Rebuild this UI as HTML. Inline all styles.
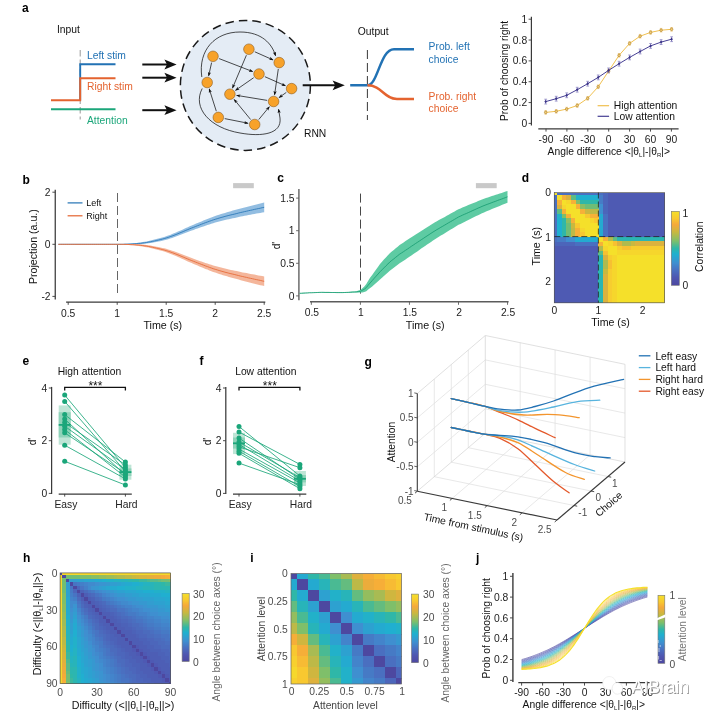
<!DOCTYPE html>
<html><head><meta charset="utf-8"><title>figure</title>
<style>html,body{margin:0;padding:0;background:#fff;}svg{display:block}text{font-family:"Liberation Sans",sans-serif;}</style></head>
<body><svg width="712" height="715" viewBox="0 0 712 715">
<defs><marker id="ah" viewBox="0 0 10 10" refX="8" refY="5" markerWidth="4.6" markerHeight="4.6" orient="auto" markerUnits="userSpaceOnUse"><path d="M0 1.5L10 5L0 8.5L2.5 5z" fill="#111"/></marker></defs>
<rect width="712" height="715" fill="#fff"/>
<g style="will-change:transform">
<text x="22" y="12.2" font-size="12" text-anchor="start" fill="#000" font-weight="bold">a</text>
<text x="57" y="33" font-size="10.3" text-anchor="start" fill="#111">Input</text>
<line x1="80.2" y1="50" x2="80.2" y2="119.5" stroke="#999" stroke-width="1" stroke-dasharray="6.5 3"/>
<path d="M80.2 100.5V64.2H115.5" stroke="#2272b4" stroke-width="1.9" fill="none"/>
<path d="M51 100.2H80.2V78.3H115.5" stroke="#e4632f" stroke-width="1.9" fill="none"/>
<path d="M51 109.3H115.5" stroke="#1ba67a" stroke-width="1.9" fill="none"/>
<text x="87" y="59.2" font-size="10.3" text-anchor="start" fill="#2272b4">Left stim</text>
<text x="87" y="89.6" font-size="10.3" text-anchor="start" fill="#e4632f">Right stim</text>
<text x="87" y="124" font-size="10.3" text-anchor="start" fill="#1ba67a">Attention</text>
<line x1="142.3" y1="64.5" x2="168.6" y2="64.5" stroke="#111" stroke-width="2.0"/>
<path d="M176.6 64.5L164.4 59.6L167.0 64.5L164.4 69.4z" fill="#111"/>
<line x1="142.3" y1="77.7" x2="168.6" y2="77.7" stroke="#111" stroke-width="2.0"/>
<path d="M176.6 77.7L164.4 72.8L167.0 77.7L164.4 82.60000000000001z" fill="#111"/>
<line x1="142.3" y1="110.2" x2="168.6" y2="110.2" stroke="#111" stroke-width="2.0"/>
<path d="M176.6 110.2L164.4 105.3L167.0 110.2L164.4 115.10000000000001z" fill="#111"/>
<circle cx="245.4" cy="85.4" r="65" fill="#e4ecf5" stroke="#1a1a1a" stroke-width="1.5" stroke-dasharray="8.6 5"/>
<line x1="211.6" y1="62.6" x2="208.7" y2="75.7" stroke="#111" stroke-width="0.75" marker-end="url(#ah)"/>
<line x1="219.1" y1="58.6" x2="252.5" y2="71.5" stroke="#111" stroke-width="0.75" marker-end="url(#ah)"/>
<line x1="254.8" y1="51.8" x2="272.8" y2="59.8" stroke="#111" stroke-width="0.75" marker-end="url(#ah)"/>
<line x1="246.4" y1="55.2" x2="232.6" y2="87.8" stroke="#111" stroke-width="0.75" marker-end="url(#ah)"/>
<line x1="253.7" y1="77.7" x2="235.7" y2="90.2" stroke="#111" stroke-width="0.75" marker-end="url(#ah)"/>
<line x1="264.9" y1="76.7" x2="285.2" y2="85.7" stroke="#111" stroke-width="0.75" marker-end="url(#ah)"/>
<line x1="278.3" y1="69.0" x2="274.6" y2="94.6" stroke="#111" stroke-width="0.75" marker-end="url(#ah)"/>
<line x1="286.3" y1="92.4" x2="279.3" y2="97.4" stroke="#111" stroke-width="0.75" marker-end="url(#ah)"/>
<line x1="267.2" y1="100.4" x2="236.8" y2="95.4" stroke="#111" stroke-width="0.75" marker-end="url(#ah)"/>
<line x1="250.6" y1="119.5" x2="234.3" y2="99.6" stroke="#111" stroke-width="0.75" marker-end="url(#ah)"/>
<line x1="258.8" y1="119.5" x2="269.2" y2="106.9" stroke="#111" stroke-width="0.75" marker-end="url(#ah)"/>
<line x1="224.7" y1="118.6" x2="247.8" y2="123.2" stroke="#111" stroke-width="0.75" marker-end="url(#ah)"/>
<line x1="216.3" y1="111.2" x2="209.3" y2="89.2" stroke="#111" stroke-width="0.75" marker-end="url(#ah)"/>
<path d="M201.8 77 C198 50 215 32 240 32 C262 32 272 44 275.5 55.5" stroke="#111" stroke-width="0.75" fill="none" marker-end="url(#ah)"/>
<path d="M202.2 88.5 C192 108 210 128 240 133 C262 137 282 134 280 118 L278.6 109.5" stroke="#111" stroke-width="0.75" fill="none" marker-end="url(#ah)"/>
<circle cx="213" cy="56.3" r="5.3" fill="#f7a22a" stroke="#7a4a10" stroke-width="0.5"/>
<circle cx="248.9" cy="49.2" r="5.3" fill="#f7a22a" stroke="#7a4a10" stroke-width="0.5"/>
<circle cx="279.2" cy="62.6" r="5.3" fill="#f7a22a" stroke="#7a4a10" stroke-width="0.5"/>
<circle cx="259" cy="74" r="5.3" fill="#f7a22a" stroke="#7a4a10" stroke-width="0.5"/>
<circle cx="207.2" cy="82.5" r="5.3" fill="#f7a22a" stroke="#7a4a10" stroke-width="0.5"/>
<circle cx="291.6" cy="88.6" r="5.3" fill="#f7a22a" stroke="#7a4a10" stroke-width="0.5"/>
<circle cx="229.9" cy="94.2" r="5.3" fill="#f7a22a" stroke="#7a4a10" stroke-width="0.5"/>
<circle cx="273.6" cy="101.5" r="5.3" fill="#f7a22a" stroke="#7a4a10" stroke-width="0.5"/>
<circle cx="218.3" cy="117.4" r="5.3" fill="#f7a22a" stroke="#7a4a10" stroke-width="0.5"/>
<circle cx="254.7" cy="124.5" r="5.3" fill="#f7a22a" stroke="#7a4a10" stroke-width="0.5"/>
<line x1="302.7" y1="85.3" x2="336.8" y2="85.3" stroke="#111" stroke-width="2.0"/>
<path d="M344.8 85.3L332.6 80.39999999999999L335.2 85.3L332.6 90.2z" fill="#111"/>
<text x="304" y="137" font-size="10.3" text-anchor="start" fill="#111">RNN</text>
<text x="357.8" y="34.8" font-size="10.3" text-anchor="start" fill="#111">Output</text>
<line x1="367.4" y1="50" x2="367.4" y2="120" stroke="#222" stroke-width="0.9" stroke-dasharray="9 4"/>
<path d="M350.2 85.3H367.4C378 85.3 380 49.2 394 49.2H414" stroke="#2272b4" stroke-width="2.5" fill="none"/>
<path d="M367.4 85.3C382 85.3 384 99 397 99H414" stroke="#e4632f" stroke-width="2.5" fill="none"/>
<text x="428.6" y="50.4" font-size="10.3" text-anchor="start" fill="#2272b4">Prob. left</text>
<text x="428.6" y="62.6" font-size="10.3" text-anchor="start" fill="#2272b4">choice</text>
<text x="428.6" y="100.2" font-size="10.3" text-anchor="start" fill="#e4632f">Prob. right</text>
<text x="428.6" y="112.4" font-size="10.3" text-anchor="start" fill="#e4632f">choice</text>
<line x1="531.4" y1="16.8" x2="531.4" y2="125.4" stroke="#3a3a3a" stroke-width="1.2"/>
<line x1="528.6" y1="123.4" x2="531.4" y2="123.4" stroke="#3a3a3a" stroke-width="0.9"/>
<text x="527.2" y="127.0" font-size="10.3" text-anchor="end" fill="#222">0</text>
<line x1="528.6" y1="102.56" x2="531.4" y2="102.56" stroke="#3a3a3a" stroke-width="0.9"/>
<text x="527.2" y="106.16" font-size="10.3" text-anchor="end" fill="#222">0.2</text>
<line x1="528.6" y1="81.72" x2="531.4" y2="81.72" stroke="#3a3a3a" stroke-width="0.9"/>
<text x="527.2" y="85.32" font-size="10.3" text-anchor="end" fill="#222">0.4</text>
<line x1="528.6" y1="60.88" x2="531.4" y2="60.88" stroke="#3a3a3a" stroke-width="0.9"/>
<text x="527.2" y="64.48" font-size="10.3" text-anchor="end" fill="#222">0.6</text>
<line x1="528.6" y1="40.040000000000006" x2="531.4" y2="40.040000000000006" stroke="#3a3a3a" stroke-width="0.9"/>
<text x="527.2" y="43.64000000000001" font-size="10.3" text-anchor="end" fill="#222">0.8</text>
<line x1="528.6" y1="19.200000000000003" x2="531.4" y2="19.200000000000003" stroke="#3a3a3a" stroke-width="0.9"/>
<text x="527.2" y="22.800000000000004" font-size="10.3" text-anchor="end" fill="#222">1</text>
<line x1="538.3" y1="128.8" x2="678.6" y2="128.8" stroke="#3a3a3a" stroke-width="1.2"/>
<line x1="546.0" y1="128.8" x2="546.0" y2="131.6" stroke="#3a3a3a" stroke-width="0.9"/>
<text x="546.0" y="142.6" font-size="10.3" text-anchor="middle" fill="#222">-90</text>
<line x1="566.9" y1="128.8" x2="566.9" y2="131.6" stroke="#3a3a3a" stroke-width="0.9"/>
<text x="566.9" y="142.6" font-size="10.3" text-anchor="middle" fill="#222">-60</text>
<line x1="587.8" y1="128.8" x2="587.8" y2="131.6" stroke="#3a3a3a" stroke-width="0.9"/>
<text x="587.8" y="142.6" font-size="10.3" text-anchor="middle" fill="#222">-30</text>
<line x1="608.7" y1="128.8" x2="608.7" y2="131.6" stroke="#3a3a3a" stroke-width="0.9"/>
<text x="608.7" y="142.6" font-size="10.3" text-anchor="middle" fill="#222">0</text>
<line x1="629.6" y1="128.8" x2="629.6" y2="131.6" stroke="#3a3a3a" stroke-width="0.9"/>
<text x="629.6" y="142.6" font-size="10.3" text-anchor="middle" fill="#222">30</text>
<line x1="650.5" y1="128.8" x2="650.5" y2="131.6" stroke="#3a3a3a" stroke-width="0.9"/>
<text x="650.5" y="142.6" font-size="10.3" text-anchor="middle" fill="#222">60</text>
<line x1="671.4" y1="128.8" x2="671.4" y2="131.6" stroke="#3a3a3a" stroke-width="0.9"/>
<text x="671.4" y="142.6" font-size="10.3" text-anchor="middle" fill="#222">90</text>
<text x="608.8" y="154.8" font-size="10.3" text-anchor="middle" fill="#111">Angle difference &lt;|θ<tspan font-size="6" dy="2">L</tspan><tspan dy="-2">|-|θ</tspan><tspan font-size="6" dy="2">R</tspan><tspan dy="-2">|&gt;</tspan></text>
<text x="508.4" y="71" font-size="10.3" text-anchor="middle" fill="#111" transform="rotate(-90 508.4 71)">Prob of choosing right</text>
<path d="M545.7 112.4L556.2 111.3L566.7 109.1L577.2 105.5L587.7 98.3L598.2 86.8L608.6 71.1L619.1 55.3L629.6 43.4L640.1 36.2L650.6 32.4L661.1 30.2L671.6 29.3" stroke="#f0c050" stroke-width="1.0" fill="none"/>
<path d="M545.7 110.60000000000001V114.2M544.4 110.60000000000001h2.6M544.4 114.2h2.6" stroke="#e8b860" stroke-width="0.6" fill="none"/>
<circle cx="545.7" cy="112.4" r="1.3" fill="#f3cf7c" stroke="#a97c22" stroke-width="0.6"/>
<path d="M556.2 109.5V113.1M554.9 109.5h2.6M554.9 113.1h2.6" stroke="#e8b860" stroke-width="0.6" fill="none"/>
<circle cx="556.2" cy="111.3" r="1.3" fill="#f3cf7c" stroke="#a97c22" stroke-width="0.6"/>
<path d="M566.7 107.3V110.89999999999999M565.4 107.3h2.6M565.4 110.89999999999999h2.6" stroke="#e8b860" stroke-width="0.6" fill="none"/>
<circle cx="566.7" cy="109.1" r="1.3" fill="#f3cf7c" stroke="#a97c22" stroke-width="0.6"/>
<path d="M577.2 103.7V107.3M575.9 103.7h2.6M575.9 107.3h2.6" stroke="#e8b860" stroke-width="0.6" fill="none"/>
<circle cx="577.2" cy="105.5" r="1.3" fill="#f3cf7c" stroke="#a97c22" stroke-width="0.6"/>
<path d="M587.7 96.5V100.1M586.4 96.5h2.6M586.4 100.1h2.6" stroke="#e8b860" stroke-width="0.6" fill="none"/>
<circle cx="587.7" cy="98.3" r="1.3" fill="#f3cf7c" stroke="#a97c22" stroke-width="0.6"/>
<path d="M598.2 85.0V88.6M596.9 85.0h2.6M596.9 88.6h2.6" stroke="#e8b860" stroke-width="0.6" fill="none"/>
<circle cx="598.2" cy="86.8" r="1.3" fill="#f3cf7c" stroke="#a97c22" stroke-width="0.6"/>
<path d="M608.6 69.3V72.89999999999999M607.3 69.3h2.6M607.3 72.89999999999999h2.6" stroke="#e8b860" stroke-width="0.6" fill="none"/>
<circle cx="608.6" cy="71.1" r="1.3" fill="#f3cf7c" stroke="#a97c22" stroke-width="0.6"/>
<path d="M619.1 53.5V57.099999999999994M617.8 53.5h2.6M617.8 57.099999999999994h2.6" stroke="#e8b860" stroke-width="0.6" fill="none"/>
<circle cx="619.1" cy="55.3" r="1.3" fill="#f3cf7c" stroke="#a97c22" stroke-width="0.6"/>
<path d="M629.6 41.6V45.199999999999996M628.3 41.6h2.6M628.3 45.199999999999996h2.6" stroke="#e8b860" stroke-width="0.6" fill="none"/>
<circle cx="629.6" cy="43.4" r="1.3" fill="#f3cf7c" stroke="#a97c22" stroke-width="0.6"/>
<path d="M640.1 34.400000000000006V38.0M638.8 34.400000000000006h2.6M638.8 38.0h2.6" stroke="#e8b860" stroke-width="0.6" fill="none"/>
<circle cx="640.1" cy="36.2" r="1.3" fill="#f3cf7c" stroke="#a97c22" stroke-width="0.6"/>
<path d="M650.6 30.599999999999998V34.199999999999996M649.3 30.599999999999998h2.6M649.3 34.199999999999996h2.6" stroke="#e8b860" stroke-width="0.6" fill="none"/>
<circle cx="650.6" cy="32.4" r="1.3" fill="#f3cf7c" stroke="#a97c22" stroke-width="0.6"/>
<path d="M661.1 28.4V32.0M659.8 28.4h2.6M659.8 32.0h2.6" stroke="#e8b860" stroke-width="0.6" fill="none"/>
<circle cx="661.1" cy="30.2" r="1.3" fill="#f3cf7c" stroke="#a97c22" stroke-width="0.6"/>
<path d="M671.6 27.5V31.1M670.3 27.5h2.6M670.3 31.1h2.6" stroke="#e8b860" stroke-width="0.6" fill="none"/>
<circle cx="671.6" cy="29.3" r="1.3" fill="#f3cf7c" stroke="#a97c22" stroke-width="0.6"/>
<path d="M545.7 101.6L556.2 98.7L566.7 95.3L577.2 89.7L587.7 83.7L598.2 77.4L608.6 70.4L619.1 63.7L629.6 57.4L640.1 51.5L650.6 45.9L661.1 42.1L671.6 39.2" stroke="#463f94" stroke-width="1.0" fill="none"/>
<path d="M545.7 99.19999999999999V104.0M544.3 99.19999999999999h2.8M544.3 104.0h2.8" stroke="#6a62b0" stroke-width="0.6" fill="none"/>
<path d="M545.7 100.0l1.3 1.6l-1.3 1.6l-1.3 -1.6z" fill="#3a3388"/>
<path d="M556.2 96.3V101.10000000000001M554.8 96.3h2.8M554.8 101.10000000000001h2.8" stroke="#6a62b0" stroke-width="0.6" fill="none"/>
<path d="M556.2 97.10000000000001l1.3 1.6l-1.3 1.6l-1.3 -1.6z" fill="#3a3388"/>
<path d="M566.7 92.89999999999999V97.7M565.3 92.89999999999999h2.8M565.3 97.7h2.8" stroke="#6a62b0" stroke-width="0.6" fill="none"/>
<path d="M566.7 93.7l1.3 1.6l-1.3 1.6l-1.3 -1.6z" fill="#3a3388"/>
<path d="M577.2 87.3V92.10000000000001M575.8 87.3h2.8M575.8 92.10000000000001h2.8" stroke="#6a62b0" stroke-width="0.6" fill="none"/>
<path d="M577.2 88.10000000000001l1.3 1.6l-1.3 1.6l-1.3 -1.6z" fill="#3a3388"/>
<path d="M587.7 81.3V86.10000000000001M586.3 81.3h2.8M586.3 86.10000000000001h2.8" stroke="#6a62b0" stroke-width="0.6" fill="none"/>
<path d="M587.7 82.10000000000001l1.3 1.6l-1.3 1.6l-1.3 -1.6z" fill="#3a3388"/>
<path d="M598.2 75.0V79.80000000000001M596.8 75.0h2.8M596.8 79.80000000000001h2.8" stroke="#6a62b0" stroke-width="0.6" fill="none"/>
<path d="M598.2 75.80000000000001l1.3 1.6l-1.3 1.6l-1.3 -1.6z" fill="#3a3388"/>
<path d="M608.6 68.0V72.80000000000001M607.2 68.0h2.8M607.2 72.80000000000001h2.8" stroke="#6a62b0" stroke-width="0.6" fill="none"/>
<path d="M608.6 68.80000000000001l1.3 1.6l-1.3 1.6l-1.3 -1.6z" fill="#3a3388"/>
<path d="M619.1 61.300000000000004V66.10000000000001M617.7 61.300000000000004h2.8M617.7 66.10000000000001h2.8" stroke="#6a62b0" stroke-width="0.6" fill="none"/>
<path d="M619.1 62.1l1.3 1.6l-1.3 1.6l-1.3 -1.6z" fill="#3a3388"/>
<path d="M629.6 55.0V59.8M628.2 55.0h2.8M628.2 59.8h2.8" stroke="#6a62b0" stroke-width="0.6" fill="none"/>
<path d="M629.6 55.8l1.3 1.6l-1.3 1.6l-1.3 -1.6z" fill="#3a3388"/>
<path d="M640.1 49.1V53.9M638.7 49.1h2.8M638.7 53.9h2.8" stroke="#6a62b0" stroke-width="0.6" fill="none"/>
<path d="M640.1 49.9l1.3 1.6l-1.3 1.6l-1.3 -1.6z" fill="#3a3388"/>
<path d="M650.6 43.5V48.3M649.2 43.5h2.8M649.2 48.3h2.8" stroke="#6a62b0" stroke-width="0.6" fill="none"/>
<path d="M650.6 44.3l1.3 1.6l-1.3 1.6l-1.3 -1.6z" fill="#3a3388"/>
<path d="M661.1 39.7V44.5M659.7 39.7h2.8M659.7 44.5h2.8" stroke="#6a62b0" stroke-width="0.6" fill="none"/>
<path d="M661.1 40.5l1.3 1.6l-1.3 1.6l-1.3 -1.6z" fill="#3a3388"/>
<path d="M671.6 36.800000000000004V41.6M670.2 36.800000000000004h2.8M670.2 41.6h2.8" stroke="#6a62b0" stroke-width="0.6" fill="none"/>
<path d="M671.6 37.6l1.3 1.6l-1.3 1.6l-1.3 -1.6z" fill="#3a3388"/>
<line x1="597.6" y1="105.7" x2="609.1" y2="105.7" stroke="#f0c050" stroke-width="1.2"/>
<text x="613.8" y="109.4" font-size="10.3" text-anchor="start" fill="#111">High attention</text>
<line x1="597.6" y1="116.3" x2="609.1" y2="116.3" stroke="#463f94" stroke-width="1.2"/>
<text x="613.8" y="120" font-size="10.3" text-anchor="start" fill="#111">Low attention</text>
<text x="22.4" y="184" font-size="12" text-anchor="start" fill="#000" font-weight="bold">b</text>
<line x1="55.25" y1="189.7" x2="55.25" y2="299.6" stroke="#3a3a3a" stroke-width="1.25"/>
<line x1="52.4" y1="192.20000000000002" x2="55.25" y2="192.20000000000002" stroke="#3a3a3a" stroke-width="0.9"/>
<text x="50.6" y="195.9" font-size="10.3" text-anchor="end" fill="#222">2</text>
<line x1="52.4" y1="244.3" x2="55.25" y2="244.3" stroke="#3a3a3a" stroke-width="0.9"/>
<text x="50.6" y="248.0" font-size="10.3" text-anchor="end" fill="#222">0</text>
<line x1="52.4" y1="296.40000000000003" x2="55.25" y2="296.40000000000003" stroke="#3a3a3a" stroke-width="0.9"/>
<text x="50.6" y="300.1" font-size="10.3" text-anchor="end" fill="#222">-2</text>
<line x1="66.1" y1="302.1" x2="265.3" y2="302.1" stroke="#3a3a3a" stroke-width="1.25"/>
<line x1="68.2" y1="302.1" x2="68.2" y2="304.8" stroke="#3a3a3a" stroke-width="0.9"/>
<text x="68.2" y="316.5" font-size="10.3" text-anchor="middle" fill="#222">0.5</text>
<line x1="117.2" y1="302.1" x2="117.2" y2="304.8" stroke="#3a3a3a" stroke-width="0.9"/>
<text x="117.2" y="316.5" font-size="10.3" text-anchor="middle" fill="#222">1</text>
<line x1="166.2" y1="302.1" x2="166.2" y2="304.8" stroke="#3a3a3a" stroke-width="0.9"/>
<text x="166.2" y="316.5" font-size="10.3" text-anchor="middle" fill="#222">1.5</text>
<line x1="215.2" y1="302.1" x2="215.2" y2="304.8" stroke="#3a3a3a" stroke-width="0.9"/>
<text x="215.2" y="316.5" font-size="10.3" text-anchor="middle" fill="#222">2</text>
<line x1="264.2" y1="302.1" x2="264.2" y2="304.8" stroke="#3a3a3a" stroke-width="0.9"/>
<text x="264.2" y="316.5" font-size="10.3" text-anchor="middle" fill="#222">2.5</text>
<text x="162.8" y="329.2" font-size="10.7" text-anchor="middle" fill="#111">Time (s)</text>
<text x="37" y="246.6" font-size="10.6" text-anchor="middle" fill="#111" transform="rotate(-90 37 246.6)">Projection (a.u.)</text>
<line x1="117.5" y1="193" x2="117.5" y2="297" stroke="#666" stroke-width="1" stroke-dasharray="9 4"/>
<rect x="233.1" y="183.1" width="20.7" height="5.1" fill="#c9c9c9"/>
<path d="M58.4 244.0L60.4 244.0L62.3 244.0L64.3 244.0L66.2 244.0L68.2 244.0L70.2 244.0L72.1 244.0L74.1 244.0L76.0 244.0L78.0 244.0L80.0 244.0L81.9 244.0L83.9 244.0L85.8 244.0L87.8 244.0L89.8 244.0L91.7 244.0L93.7 244.0L95.6 244.0L97.6 244.0L99.6 244.0L101.5 244.0L103.5 244.0L105.4 244.0L107.4 244.0L109.4 244.0L111.3 244.0L113.3 244.0L115.2 244.0L117.2 244.0L119.2 244.0L121.1 244.0L123.1 243.9L125.0 243.8L127.0 243.7L129.0 243.6L130.9 243.4L132.9 243.3L134.8 243.1L136.8 242.9L138.8 242.6L140.7 242.4L142.7 242.1L144.6 241.7L146.6 241.4L148.6 241.0L150.5 240.6L152.5 240.1L154.4 239.6L156.4 239.1L158.4 238.6L160.3 238.1L162.3 237.5L164.2 237.0L166.2 236.3L168.2 235.6L170.1 234.9L172.1 234.1L174.0 233.3L176.0 232.5L178.0 231.6L179.9 230.8L181.9 229.9L183.8 229.0L185.8 228.1L187.8 227.2L189.7 226.3L191.7 225.5L193.6 224.7L195.6 223.8L197.6 223.0L199.5 222.2L201.5 221.4L203.4 220.5L205.4 219.7L207.4 219.0L209.3 218.2L211.3 217.4L213.2 216.7L215.2 216.0L217.2 215.3L219.1 214.7L221.1 214.1L223.0 213.4L225.0 212.9L227.0 212.3L228.9 211.7L230.9 211.2L232.8 210.6L234.8 210.1L236.8 209.5L238.7 209.0L240.7 208.4L242.6 207.9L244.6 207.4L246.6 206.9L248.5 206.4L250.5 205.9L252.4 205.4L254.4 204.9L256.4 204.4L258.3 203.9L260.3 203.4L262.2 203.0L264.2 202.5L264.2 212.2L262.2 212.5L260.3 212.9L258.3 213.2L256.4 213.6L254.4 214.0L252.4 214.3L250.5 214.7L248.5 215.1L246.6 215.5L244.6 215.8L242.6 216.2L240.7 216.6L238.7 217.1L236.8 217.5L234.8 217.9L232.8 218.3L230.9 218.7L228.9 219.2L227.0 219.6L225.0 220.0L223.0 220.5L221.1 221.0L219.1 221.5L217.2 222.0L215.2 222.6L213.2 223.2L211.3 223.8L209.3 224.4L207.4 225.0L205.4 225.7L203.4 226.4L201.5 227.0L199.5 227.7L197.6 228.4L195.6 229.1L193.6 229.9L191.7 230.6L189.7 231.3L187.8 232.0L185.8 232.8L183.8 233.5L181.9 234.3L179.9 235.1L178.0 235.8L176.0 236.6L174.0 237.3L172.1 237.9L170.1 238.6L168.2 239.2L166.2 239.8L164.2 240.3L162.3 240.7L160.3 241.2L158.4 241.5L156.4 241.9L154.4 242.3L152.5 242.7L150.5 243.0L148.6 243.3L146.6 243.6L144.6 243.8L142.7 244.0L140.7 244.2L138.8 244.3L136.8 244.4L134.8 244.5L132.9 244.6L130.9 244.6L129.0 244.7L127.0 244.7L125.0 244.7L123.1 244.6L121.1 244.6L119.2 244.6L117.2 244.6L115.2 244.6L113.3 244.6L111.3 244.6L109.4 244.6L107.4 244.6L105.4 244.6L103.5 244.6L101.5 244.6L99.6 244.6L97.6 244.6L95.6 244.6L93.7 244.6L91.7 244.6L89.8 244.6L87.8 244.6L85.8 244.6L83.9 244.6L81.9 244.6L80.0 244.6L78.0 244.6L76.0 244.6L74.1 244.6L72.1 244.6L70.2 244.6L68.2 244.6L66.2 244.6L64.3 244.6L62.3 244.6L60.4 244.6L58.4 244.6z" fill="#7fb2dc" fill-opacity="0.85"/>
<path d="M58.4 244.3L60.4 244.3L62.3 244.3L64.3 244.3L66.2 244.3L68.2 244.3L70.2 244.3L72.1 244.3L74.1 244.3L76.0 244.3L78.0 244.3L80.0 244.3L81.9 244.3L83.9 244.3L85.8 244.3L87.8 244.3L89.8 244.3L91.7 244.3L93.7 244.3L95.6 244.3L97.6 244.3L99.6 244.3L101.5 244.3L103.5 244.3L105.4 244.3L107.4 244.3L109.4 244.3L111.3 244.3L113.3 244.3L115.2 244.3L117.2 244.3L119.2 244.3L121.1 244.3L123.1 244.3L125.0 244.2L127.0 244.2L129.0 244.1L130.9 244.0L132.9 243.9L134.8 243.8L136.8 243.6L138.8 243.5L140.7 243.3L142.7 243.0L144.6 242.8L146.6 242.5L148.6 242.1L150.5 241.8L152.5 241.4L154.4 241.0L156.4 240.5L158.4 240.1L160.3 239.6L162.3 239.1L164.2 238.6L166.2 238.0L168.2 237.4L170.1 236.7L172.1 236.0L174.0 235.3L176.0 234.5L178.0 233.7L179.9 232.9L181.9 232.1L183.8 231.3L185.8 230.4L187.8 229.6L189.7 228.8L191.7 228.0L193.6 227.3L195.6 226.5L197.6 225.7L199.5 225.0L201.5 224.2L203.4 223.5L205.4 222.7L207.4 222.0L209.3 221.3L211.3 220.6L213.2 219.9L215.2 219.3L217.2 218.7L219.1 218.1L221.1 217.5L223.0 217.0L225.0 216.4L227.0 215.9L228.9 215.4L230.9 214.9L232.8 214.5L234.8 214.0L236.8 213.5L238.7 213.0L240.7 212.5L242.6 212.1L244.6 211.6L246.6 211.2L248.5 210.7L250.5 210.3L252.4 209.9L254.4 209.4L256.4 209.0L258.3 208.6L260.3 208.2L262.2 207.7L264.2 207.3" stroke="#2272b4" stroke-width="0.8" fill="none"/>
<path d="M58.4 244.0L60.4 244.0L62.3 244.0L64.3 244.0L66.2 244.0L68.2 244.0L70.2 244.0L72.1 244.0L74.1 244.0L76.0 244.0L78.0 244.0L80.0 244.0L81.9 244.0L83.9 244.0L85.8 244.0L87.8 244.0L89.8 244.0L91.7 244.0L93.7 244.0L95.6 244.0L97.6 244.0L99.6 244.0L101.5 244.0L103.5 244.0L105.4 244.0L107.4 244.0L109.4 244.0L111.3 244.0L113.3 244.0L115.2 244.0L117.2 244.0L119.2 244.0L121.1 244.0L123.1 244.0L125.0 243.9L127.0 243.9L129.0 243.9L130.9 244.0L132.9 244.0L134.8 244.1L136.8 244.2L138.8 244.3L140.7 244.4L142.7 244.6L144.6 244.8L146.6 245.0L148.6 245.3L150.5 245.6L152.5 245.9L154.4 246.3L156.4 246.7L158.4 247.1L160.3 247.4L162.3 247.9L164.2 248.3L166.2 248.8L168.2 249.4L170.1 250.0L172.1 250.7L174.0 251.3L176.0 252.0L178.0 252.8L179.9 253.5L181.9 254.3L183.8 255.1L185.8 255.8L187.8 256.6L189.7 257.3L191.7 258.0L193.6 258.7L195.6 259.5L197.6 260.2L199.5 260.9L201.5 261.6L203.4 262.2L205.4 262.9L207.4 263.6L209.3 264.2L211.3 264.8L213.2 265.4L215.2 266.0L217.2 266.6L219.1 267.1L221.1 267.6L223.0 268.1L225.0 268.6L227.0 269.0L228.9 269.4L230.9 269.9L232.8 270.3L234.8 270.7L236.8 271.1L238.7 271.5L240.7 272.0L242.6 272.4L244.6 272.8L246.6 273.1L248.5 273.5L250.5 273.9L252.4 274.3L254.4 274.6L256.4 275.0L258.3 275.4L260.3 275.7L262.2 276.1L264.2 276.4L264.2 286.1L262.2 285.6L260.3 285.2L258.3 284.7L256.4 284.2L254.4 283.7L252.4 283.2L250.5 282.7L248.5 282.2L246.6 281.7L244.6 281.2L242.6 280.7L240.7 280.2L238.7 279.6L236.8 279.1L234.8 278.5L232.8 278.0L230.9 277.4L228.9 276.9L227.0 276.3L225.0 275.7L223.0 275.2L221.1 274.5L219.1 273.9L217.2 273.3L215.2 272.6L213.2 271.9L211.3 271.2L209.3 270.4L207.4 269.6L205.4 268.9L203.4 268.1L201.5 267.2L199.5 266.4L197.6 265.6L195.6 264.8L193.6 263.9L191.7 263.1L189.7 262.3L187.8 261.4L185.8 260.5L183.8 259.6L181.9 258.7L179.9 257.8L178.0 257.0L176.0 256.1L174.0 255.3L172.1 254.5L170.1 253.7L168.2 253.0L166.2 252.3L164.2 251.6L162.3 251.1L160.3 250.5L158.4 250.0L156.4 249.5L154.4 249.0L152.5 248.5L150.5 248.0L148.6 247.6L146.6 247.2L144.6 246.9L142.7 246.5L140.7 246.2L138.8 246.0L136.8 245.7L134.8 245.5L132.9 245.3L130.9 245.2L129.0 245.0L127.0 244.9L125.0 244.8L123.1 244.7L121.1 244.6L119.2 244.6L117.2 244.6L115.2 244.6L113.3 244.6L111.3 244.6L109.4 244.6L107.4 244.6L105.4 244.6L103.5 244.6L101.5 244.6L99.6 244.6L97.6 244.6L95.6 244.6L93.7 244.6L91.7 244.6L89.8 244.6L87.8 244.6L85.8 244.6L83.9 244.6L81.9 244.6L80.0 244.6L78.0 244.6L76.0 244.6L74.1 244.6L72.1 244.6L70.2 244.6L68.2 244.6L66.2 244.6L64.3 244.6L62.3 244.6L60.4 244.6L58.4 244.6z" fill="#f2a98a" fill-opacity="0.85"/>
<path d="M58.4 244.3L60.4 244.3L62.3 244.3L64.3 244.3L66.2 244.3L68.2 244.3L70.2 244.3L72.1 244.3L74.1 244.3L76.0 244.3L78.0 244.3L80.0 244.3L81.9 244.3L83.9 244.3L85.8 244.3L87.8 244.3L89.8 244.3L91.7 244.3L93.7 244.3L95.6 244.3L97.6 244.3L99.6 244.3L101.5 244.3L103.5 244.3L105.4 244.3L107.4 244.3L109.4 244.3L111.3 244.3L113.3 244.3L115.2 244.3L117.2 244.3L119.2 244.3L121.1 244.3L123.1 244.3L125.0 244.4L127.0 244.4L129.0 244.5L130.9 244.6L132.9 244.7L134.8 244.8L136.8 245.0L138.8 245.1L140.7 245.3L142.7 245.6L144.6 245.8L146.6 246.1L148.6 246.5L150.5 246.8L152.5 247.2L154.4 247.6L156.4 248.1L158.4 248.5L160.3 249.0L162.3 249.5L164.2 250.0L166.2 250.6L168.2 251.2L170.1 251.9L172.1 252.6L174.0 253.3L176.0 254.1L178.0 254.9L179.9 255.7L181.9 256.5L183.8 257.3L185.8 258.2L187.8 259.0L189.7 259.8L191.7 260.6L193.6 261.3L195.6 262.1L197.6 262.9L199.5 263.6L201.5 264.4L203.4 265.1L205.4 265.9L207.4 266.6L209.3 267.3L211.3 268.0L213.2 268.7L215.2 269.3L217.2 269.9L219.1 270.5L221.1 271.1L223.0 271.6L225.0 272.2L227.0 272.7L228.9 273.2L230.9 273.7L232.8 274.1L234.8 274.6L236.8 275.1L238.7 275.6L240.7 276.1L242.6 276.5L244.6 277.0L246.6 277.4L248.5 277.9L250.5 278.3L252.4 278.7L254.4 279.2L256.4 279.6L258.3 280.0L260.3 280.4L262.2 280.9L264.2 281.3" stroke="#e4632f" stroke-width="0.8" fill="none"/>
<line x1="67.6" y1="202.9" x2="82.5" y2="202.9" stroke="#2272b4" stroke-width="1.2"/>
<text x="86.3" y="206" font-size="9" text-anchor="start" fill="#111">Left</text>
<line x1="67.6" y1="215.8" x2="82.5" y2="215.8" stroke="#e4632f" stroke-width="1.2"/>
<text x="86.3" y="218.9" font-size="9" text-anchor="start" fill="#111">Right</text>
<text x="277.3" y="181.6" font-size="12" text-anchor="start" fill="#000" font-weight="bold">c</text>
<line x1="298.9" y1="189" x2="298.9" y2="300.3" stroke="#6c6c6c" stroke-width="1.5"/>
<line x1="296.1" y1="295.9" x2="298.9" y2="295.9" stroke="#5c5c5c" stroke-width="0.9"/>
<text x="294.5" y="299.59999999999997" font-size="10.3" text-anchor="end" fill="#222">0</text>
<line x1="296.1" y1="263.29999999999995" x2="298.9" y2="263.29999999999995" stroke="#5c5c5c" stroke-width="0.9"/>
<text x="294.5" y="266.99999999999994" font-size="10.3" text-anchor="end" fill="#222">0.5</text>
<line x1="296.1" y1="230.7" x2="298.9" y2="230.7" stroke="#5c5c5c" stroke-width="0.9"/>
<text x="294.5" y="234.39999999999998" font-size="10.3" text-anchor="end" fill="#222">1</text>
<line x1="296.1" y1="198.09999999999997" x2="298.9" y2="198.09999999999997" stroke="#5c5c5c" stroke-width="0.9"/>
<text x="294.5" y="201.79999999999995" font-size="10.3" text-anchor="end" fill="#222">1.5</text>
<line x1="310" y1="301.8" x2="508.6" y2="301.8" stroke="#5c5c5c" stroke-width="1.5"/>
<line x1="311.34999999999997" y1="301.8" x2="311.34999999999997" y2="304.8" stroke="#5c5c5c" stroke-width="0.9"/>
<text x="311.84999999999997" y="315.9" font-size="10.3" text-anchor="middle" fill="#222">0.5</text>
<line x1="360.4" y1="301.8" x2="360.4" y2="304.8" stroke="#5c5c5c" stroke-width="0.9"/>
<text x="360.9" y="315.9" font-size="10.3" text-anchor="middle" fill="#222">1</text>
<line x1="409.45" y1="301.8" x2="409.45" y2="304.8" stroke="#5c5c5c" stroke-width="0.9"/>
<text x="409.95" y="315.9" font-size="10.3" text-anchor="middle" fill="#222">1.5</text>
<line x1="458.5" y1="301.8" x2="458.5" y2="304.8" stroke="#5c5c5c" stroke-width="0.9"/>
<text x="459.0" y="315.9" font-size="10.3" text-anchor="middle" fill="#222">2</text>
<line x1="507.54999999999995" y1="301.8" x2="507.54999999999995" y2="304.8" stroke="#5c5c5c" stroke-width="0.9"/>
<text x="508.04999999999995" y="315.9" font-size="10.3" text-anchor="middle" fill="#222">2.5</text>
<text x="425.2" y="329" font-size="10.7" text-anchor="middle" fill="#111">Time (s)</text>
<text x="279.5" y="245.5" font-size="10.3" text-anchor="middle" fill="#111" transform="rotate(-90 279.5 245.5)">d'</text>
<line x1="360.5" y1="193.6" x2="360.5" y2="297" stroke="#333" stroke-width="0.9" stroke-dasharray="9 4"/>
<rect x="475.9" y="183.1" width="20.8" height="5.1" fill="#c9c9c9"/>
<path d="M299.6 293.0L301.5 292.9L303.5 292.8L305.5 292.7L307.4 292.7L309.4 292.6L311.3 292.5L313.3 292.4L315.3 292.3L317.2 292.2L319.2 292.1L321.2 292.0L323.1 292.0L325.1 292.1L327.0 292.1L329.0 292.1L331.0 292.2L332.9 292.2L334.9 292.2L336.9 292.2L338.8 292.3L340.8 292.3L342.7 292.2L344.7 292.1L346.7 292.0L348.6 291.9L350.6 291.7L352.6 291.6L354.5 291.5L356.5 291.2L358.4 290.6L360.4 290.0L362.4 288.2L364.3 286.4L366.3 283.9L368.2 280.8L370.2 277.6L372.2 274.9L374.1 272.2L376.1 269.4L378.1 266.7L380.0 264.0L382.0 261.8L383.9 259.6L385.9 257.5L387.9 255.3L389.8 253.2L391.8 251.6L393.8 249.9L395.7 248.3L397.7 246.7L399.6 245.0L401.6 243.7L403.6 242.4L405.5 241.1L407.5 239.8L409.4 238.5L411.4 237.3L413.4 236.0L415.3 234.8L417.3 233.5L419.3 232.3L421.2 231.0L423.2 229.8L425.1 228.5L427.1 227.3L429.1 226.0L431.0 224.8L433.0 223.5L435.0 222.3L436.9 221.2L438.9 220.1L440.8 219.0L442.8 217.9L444.8 216.9L446.7 215.8L448.7 214.7L450.7 213.6L452.6 212.5L454.6 211.4L456.5 210.3L458.5 209.2L460.5 208.4L462.4 207.6L464.4 206.8L466.3 206.0L468.3 205.1L470.3 204.3L472.2 203.5L474.2 202.7L476.2 201.9L478.1 201.1L480.1 200.3L482.0 199.5L484.0 198.8L486.0 198.1L487.9 197.4L489.9 196.8L491.9 196.1L493.8 195.5L495.8 194.8L497.7 194.2L499.7 193.5L501.7 192.9L503.6 192.2L505.6 191.6L507.5 190.9L507.5 202.7L505.6 203.5L503.6 204.3L501.7 205.1L499.7 205.9L497.7 206.7L495.8 207.5L493.8 208.3L491.9 209.1L489.9 209.9L487.9 210.7L486.0 211.6L484.0 212.4L482.0 213.3L480.1 214.2L478.1 215.2L476.2 216.1L474.2 217.1L472.2 218.1L470.3 219.0L468.3 220.0L466.3 221.0L464.4 221.9L462.4 222.9L460.5 223.9L458.5 224.8L456.5 226.0L454.6 227.2L452.6 228.4L450.7 229.6L448.7 230.8L446.7 232.0L444.8 233.2L442.8 234.4L440.8 235.6L438.9 236.8L436.9 238.0L435.0 239.2L433.0 240.5L431.0 241.9L429.1 243.2L427.1 244.6L425.1 245.9L423.2 247.3L421.2 248.6L419.3 250.0L417.3 251.4L415.3 252.7L413.4 254.1L411.4 255.4L409.4 256.8L407.5 258.1L405.5 259.4L403.6 260.7L401.6 262.0L399.6 263.3L397.7 264.8L395.7 266.3L393.8 267.8L391.8 269.3L389.8 270.8L387.9 272.6L385.9 274.3L383.9 276.1L382.0 277.8L380.0 279.6L378.1 281.3L376.1 283.0L374.1 284.7L372.2 286.4L370.2 288.1L368.2 289.6L366.3 291.2L364.3 292.1L362.4 292.4L360.4 292.6L358.4 292.6L356.5 292.5L354.5 292.5L352.6 292.6L350.6 292.7L348.6 292.7L346.7 292.8L344.7 292.8L342.7 292.9L340.8 293.0L338.8 292.9L336.9 292.9L334.9 292.9L332.9 292.8L331.0 292.8L329.0 292.8L327.0 292.7L325.1 292.7L323.1 292.7L321.2 292.6L319.2 292.7L317.2 292.8L315.3 292.9L313.3 293.0L311.3 293.1L309.4 293.1L307.4 293.2L305.5 293.3L303.5 293.4L301.5 293.5L299.6 293.6z" fill="#5ecba3"/>
<path d="M299.6 293.3L301.5 293.2L303.5 293.1L305.5 293.0L307.4 292.9L309.4 292.8L311.3 292.8L313.3 292.7L315.3 292.6L317.2 292.5L319.2 292.4L321.2 292.3L323.1 292.3L325.1 292.4L327.0 292.4L329.0 292.4L331.0 292.5L332.9 292.5L334.9 292.5L336.9 292.6L338.8 292.6L340.8 292.6L342.7 292.6L344.7 292.5L346.7 292.4L348.6 292.3L350.6 292.2L352.6 292.1L354.5 292.0L356.5 291.9L358.4 291.6L360.4 291.3L362.4 290.3L364.3 289.2L366.3 287.6L368.2 285.2L370.2 282.9L372.2 280.6L374.1 278.4L376.1 276.2L378.1 274.0L380.0 271.8L382.0 269.8L383.9 267.9L385.9 265.9L387.9 264.0L389.8 262.0L391.8 260.4L393.8 258.9L395.7 257.3L397.7 255.7L399.6 254.2L401.6 252.9L403.6 251.6L405.5 250.3L407.5 249.0L409.4 247.7L411.4 246.3L413.4 245.0L415.3 243.7L417.3 242.4L419.3 241.1L421.2 239.8L423.2 238.5L425.1 237.2L427.1 235.9L429.1 234.6L431.0 233.3L433.0 232.0L435.0 230.8L436.9 229.6L438.9 228.5L440.8 227.3L442.8 226.2L444.8 225.0L446.7 223.9L448.7 222.7L450.7 221.6L452.6 220.5L454.6 219.3L456.5 218.2L458.5 217.0L460.5 216.1L462.4 215.2L464.4 214.3L466.3 213.5L468.3 212.6L470.3 211.7L472.2 210.8L474.2 209.9L476.2 209.0L478.1 208.1L480.1 207.3L482.0 206.4L484.0 205.6L486.0 204.8L487.9 204.1L489.9 203.4L491.9 202.6L493.8 201.9L495.8 201.2L497.7 200.4L499.7 199.7L501.7 199.0L503.6 198.3L505.6 197.5L507.5 196.8" stroke="#159a70" stroke-width="0.8" fill="none"/>
<text x="521.8" y="181.5" font-size="12" text-anchor="start" fill="#000" font-weight="bold">d</text>
<g shape-rendering="crispEdges">
<path d="M607.64 192.50H664.90V195.43H607.64zM607.64 195.13H664.90V200.04H607.64zM607.64 199.74H664.90V204.65H607.64zM607.64 204.35H664.90V209.26H607.64zM607.64 208.96H664.90V213.87H607.64zM607.64 213.57H664.90V218.48H607.64zM607.64 218.18H664.90V223.09H607.64zM607.64 222.79H664.90V227.70H607.64zM607.64 227.40H664.90V232.31H607.64zM607.64 232.01H664.90V236.92H607.64zM554.30 245.84H598.72V250.75H554.30zM554.30 250.45H598.72V255.36H554.30zM554.30 255.06H598.72V259.97H554.30zM554.30 259.67H598.72V264.58H554.30zM554.30 264.28H598.72V269.19H554.30zM554.30 268.89H598.72V273.80H554.30zM554.30 273.50H598.72V278.41H554.30zM554.30 278.11H598.72V283.02H554.30zM554.30 282.72H598.72V287.63H554.30zM554.30 287.33H598.72V292.24H554.30zM554.30 291.94H598.72V296.85H554.30zM554.30 296.55H598.72V301.46H554.30zM554.30 301.16H598.72V303.10H554.30z" fill="#4e5ab3"/>
<path d="M603.03 192.50H607.94V195.43H603.03zM603.03 195.13H607.94V200.04H603.03zM603.03 199.74H607.94V204.65H603.03zM603.03 204.35H607.94V209.26H603.03zM603.03 208.96H607.94V213.87H603.03zM554.30 241.23H575.67V246.14H554.30z" fill="#4c65ba"/>
<path d="M556.93 192.50H603.33V195.43H556.93zM554.30 195.13H557.23V200.04H554.30zM554.30 199.74H557.23V204.65H554.30zM554.30 204.35H557.23V209.26H554.30zM554.30 208.96H557.23V213.87H554.30zM554.30 213.57H557.23V218.48H554.30zM603.03 213.57H607.94V218.48H603.03zM554.30 218.18H557.23V223.09H554.30zM603.03 218.18H607.94V223.09H603.03zM554.30 222.79H557.23V227.70H554.30zM603.03 222.79H607.94V227.70H603.03zM554.30 227.40H557.23V232.31H554.30zM603.03 227.40H607.94V232.31H603.03zM554.30 232.01H557.23V236.92H554.30zM603.03 232.01H607.94V236.92H603.03zM554.30 236.62H557.23V241.53H554.30zM575.37 241.23H598.72V246.14H575.37z" fill="#4a6fc0"/>
<path d="M598.42 195.13H603.33V200.04H598.42zM598.42 199.74H603.33V204.65H598.42zM556.93 236.62H566.45V241.53H556.93z" fill="#467cc6"/>
<path d="M598.42 204.35H603.33V209.26H598.42zM598.42 208.96H603.33V213.87H598.42zM566.15 236.62H575.67V241.53H566.15z" fill="#3f8fd0"/>
<path d="M598.42 213.57H603.33V218.48H598.42zM598.42 218.18H603.33V223.09H598.42zM598.42 222.79H603.33V227.70H598.42zM598.42 227.40H603.33V232.31H598.42zM598.42 232.01H603.33V236.92H598.42zM575.37 236.62H598.72V241.53H575.37z" fill="#24aad0"/>
<path d="M579.98 195.13H598.72V200.04H579.98zM556.93 218.18H561.84V223.09H556.93zM556.93 222.79H561.84V227.70H556.93zM556.93 227.40H561.84V232.31H556.93zM556.93 232.01H561.84V236.92H556.93z" fill="#1fb0d0"/>
<path d="M575.37 195.13H580.28V200.04H575.37zM556.93 213.57H561.84V218.48H556.93z" fill="#23b2c6"/>
<path d="M616.86 236.62H664.90V241.53H616.86zM598.42 255.06H603.33V259.97H598.42zM598.42 259.67H603.33V264.58H598.42zM598.42 264.28H603.33V269.19H598.42zM598.42 268.89H603.33V273.80H598.42zM598.42 273.50H603.33V278.41H598.42zM598.42 278.11H603.33V283.02H598.42zM598.42 282.72H603.33V287.63H598.42zM598.42 287.33H603.33V292.24H598.42zM598.42 291.94H603.33V296.85H598.42zM598.42 296.55H603.33V301.46H598.42zM598.42 301.16H603.33V303.10H598.42z" fill="#2bb5b2"/>
<path d="M579.98 199.74H598.72V204.65H579.98zM561.54 218.18H566.45V223.09H561.54zM561.54 222.79H566.45V227.70H561.54zM561.54 227.40H566.45V232.31H561.54zM561.54 232.01H566.45V236.92H561.54z" fill="#2fb7a8"/>
<path d="M570.76 195.13H575.67V200.04H570.76zM556.93 208.96H561.84V213.87H556.93zM612.25 236.62H617.16V241.53H612.25zM598.42 250.45H603.33V255.36H598.42z" fill="#5fbc83"/>
<path d="M584.59 204.35H598.72V209.26H584.59zM566.15 222.79H571.06V227.70H566.15zM566.15 227.40H571.06V232.31H566.15zM566.15 232.01H571.06V236.92H566.15z" fill="#6fbd76"/>
<path d="M575.37 199.74H580.28V204.65H575.37zM561.54 213.57H566.45V218.48H561.54z" fill="#7fbf6a"/>
<path d="M579.98 204.35H584.89V209.26H579.98zM566.15 218.18H571.06V223.09H566.15z" fill="#8bbe63"/>
<path d="M607.64 236.62H612.55V241.53H607.64zM621.47 241.23H630.99V246.14H621.47zM598.42 245.84H603.33V250.75H598.42zM603.03 259.67H607.94V264.58H603.03zM603.03 264.28H607.94V269.19H603.03z" fill="#b0ba4e"/>
<path d="M589.20 208.96H598.72V213.87H589.20zM570.76 227.40H575.67V232.31H570.76zM570.76 232.01H575.67V236.92H570.76z" fill="#bdb947"/>
<path d="M584.59 208.96H589.50V213.87H584.59zM570.76 222.79H575.67V227.70H570.76zM630.69 241.23H635.60V246.14H630.69zM603.03 268.89H607.94V273.80H603.03z" fill="#c9b840"/>
<path d="M566.15 195.13H571.06V200.04H566.15zM556.93 204.35H561.84V209.26H556.93zM616.86 241.23H621.77V246.14H616.86zM635.30 241.23H664.90V246.14H635.30zM603.03 255.06H607.94V259.97H603.03zM603.03 273.50H607.94V278.41H603.03zM603.03 278.11H607.94V283.02H603.03zM603.03 282.72H607.94V287.63H603.03zM603.03 287.33H607.94V292.24H603.03zM603.03 291.94H607.94V296.85H603.03zM603.03 296.55H607.94V301.46H603.03zM603.03 301.16H607.94V303.10H603.03z" fill="#dbb23e"/>
<path d="M561.54 195.13H566.45V200.04H561.54zM556.93 199.74H561.84V204.65H556.93zM570.76 199.74H575.67V204.65H570.76zM575.37 204.35H580.28V209.26H575.37zM561.54 208.96H566.45V213.87H561.54zM579.98 208.96H584.89V213.87H579.98zM566.15 213.57H571.06V218.48H566.15zM589.20 213.57H598.72V218.48H589.20zM570.76 218.18H575.67V223.09H570.76zM575.37 227.40H580.28V232.31H575.37zM575.37 232.01H580.28V236.92H575.37zM603.03 236.62H607.94V241.53H603.03zM598.42 241.23H603.33V246.14H598.42z" fill="#f6b138"/>
<path d="M612.25 241.23H617.16V246.14H612.25zM621.47 245.84H630.99V250.75H621.47zM603.03 250.45H607.94V255.36H603.03zM607.64 259.67H612.55V264.58H607.64zM607.64 264.28H612.55V269.19H607.64z" fill="#f7c032"/>
<path d="M584.59 213.57H589.50V218.48H584.59zM593.81 218.18H598.72V223.09H593.81zM575.37 222.79H580.28V227.70H575.37zM579.98 232.01H584.89V236.92H579.98z" fill="#f8c830"/>
<path d="M616.86 245.84H621.77V250.75H616.86zM630.69 245.84H664.90V250.75H630.69zM607.64 255.06H612.55V259.97H607.64zM607.64 268.89H612.55V273.80H607.64zM607.64 273.50H612.55V278.41H607.64zM607.64 278.11H612.55V283.02H607.64zM607.64 282.72H612.55V287.63H607.64zM607.64 287.33H612.55V292.24H607.64zM607.64 291.94H612.55V296.85H607.64zM607.64 296.55H612.55V301.46H607.64zM607.64 301.16H612.55V303.10H607.64z" fill="#f7cd2f"/>
<path d="M566.15 199.74H571.06V204.65H566.15zM561.54 204.35H566.45V209.26H561.54zM589.20 218.18H594.11V223.09H589.20zM579.98 227.40H584.89V232.31H579.98zM607.64 241.23H612.55V246.14H607.64zM603.03 245.84H607.94V250.75H603.03zM616.86 250.45H664.90V255.36H616.86zM612.25 255.06H617.16V259.97H612.25zM612.25 259.67H617.16V264.58H612.25zM612.25 264.28H617.16V269.19H612.25zM612.25 268.89H617.16V273.80H612.25zM612.25 273.50H617.16V278.41H612.25zM612.25 278.11H617.16V283.02H612.25zM612.25 282.72H617.16V287.63H612.25zM612.25 287.33H617.16V292.24H612.25zM612.25 291.94H617.16V296.85H612.25zM612.25 296.55H617.16V301.46H612.25zM612.25 301.16H617.16V303.10H612.25z" fill="#f6d62c"/>
<path d="M554.30 192.50H557.23V195.43H554.30zM556.93 195.13H561.84V200.04H556.93zM561.54 199.74H566.45V204.65H561.54zM566.15 204.35H575.67V209.26H566.15zM566.15 208.96H580.28V213.87H566.15zM570.76 213.57H584.89V218.48H570.76zM575.37 218.18H589.50V223.09H575.37zM579.98 222.79H598.72V227.70H579.98zM584.59 227.40H598.72V232.31H584.59zM584.59 232.01H598.72V236.92H584.59zM598.42 236.62H603.33V241.53H598.42zM603.03 241.23H607.94V246.14H603.03zM607.64 245.84H617.16V250.75H607.64zM607.64 250.45H617.16V255.36H607.64zM616.86 255.06H664.90V259.97H616.86zM616.86 259.67H664.90V264.58H616.86zM616.86 264.28H664.90V269.19H616.86zM616.86 268.89H664.90V273.80H616.86zM616.86 273.50H664.90V278.41H616.86zM616.86 278.11H664.90V283.02H616.86zM616.86 282.72H664.90V287.63H616.86zM616.86 287.33H664.90V292.24H616.86zM616.86 291.94H664.90V296.85H616.86zM616.86 296.55H664.90V301.46H616.86zM616.86 301.16H664.90V303.10H616.86z" fill="#f5e02a"/>
</g>
<rect x="554.3" y="192.5" width="110.3" height="110.3" fill="none" stroke="#555" stroke-width="0.7"/>
<line x1="598.4" y1="192.5" x2="598.4" y2="302.8" stroke="#222" stroke-width="0.8" stroke-dasharray="6 3"/>
<line x1="554.3" y1="236.6" x2="664.5999999999999" y2="236.6" stroke="#222" stroke-width="0.8" stroke-dasharray="6 3"/>
<text x="551" y="196.4" font-size="10.3" text-anchor="end" fill="#222">0</text>
<text x="554.3" y="314" font-size="10.3" text-anchor="middle" fill="#222">0</text>
<text x="551" y="240.5" font-size="10.3" text-anchor="end" fill="#222">1</text>
<text x="598.4" y="314" font-size="10.3" text-anchor="middle" fill="#222">1</text>
<text x="551" y="284.6" font-size="10.3" text-anchor="end" fill="#222">2</text>
<text x="642.5" y="314" font-size="10.3" text-anchor="middle" fill="#222">2</text>
<text x="610.5" y="325.6" font-size="10.6" text-anchor="middle" fill="#111">Time (s)</text>
<text x="540" y="246.2" font-size="10.6" text-anchor="middle" fill="#111" transform="rotate(-90 540 246.2)">Time (s)</text>
<linearGradient id="cbd" x1="0" y1="0" x2="0" y2="1"><stop offset="0.00" stop-color="#f5e02a"/><stop offset="0.10" stop-color="#f8c830"/><stop offset="0.18" stop-color="#f5a93a"/><stop offset="0.28" stop-color="#c9b840"/><stop offset="0.40" stop-color="#7fbf6a"/><stop offset="0.50" stop-color="#2fb7a8"/><stop offset="0.58" stop-color="#1fb0d0"/><stop offset="0.70" stop-color="#3f8fd0"/><stop offset="0.80" stop-color="#4a6fc0"/><stop offset="0.90" stop-color="#4f55b0"/><stop offset="1.00" stop-color="#4d48a0"/></linearGradient>
<rect x="671.3" y="211.3" width="8" height="74" fill="url(#cbd)" stroke="#777" stroke-width="0.6"/>
<text x="682.6" y="216.7" font-size="10.3" text-anchor="start" fill="#222">1</text>
<text x="682.6" y="289.2" font-size="10.3" text-anchor="start" fill="#222">0</text>
<text x="702.8" y="246.7" font-size="10.3" text-anchor="middle" fill="#111" transform="rotate(-90 702.8 246.7)">Correlation</text>
<text x="22.4" y="364.9" font-size="12" text-anchor="start" fill="#000" font-weight="bold">e</text>
<text x="89.4" y="375" font-size="10.3" text-anchor="middle" fill="#111">High attention</text>
<line x1="51.6" y1="386.9" x2="51.6" y2="494" stroke="#3a3a3a" stroke-width="1.25"/>
<line x1="48.800000000000004" y1="493.4" x2="51.6" y2="493.4" stroke="#3a3a3a" stroke-width="0.9"/>
<text x="47.2" y="497.09999999999997" font-size="10.3" text-anchor="end" fill="#222">0</text>
<line x1="48.800000000000004" y1="440.7" x2="51.6" y2="440.7" stroke="#3a3a3a" stroke-width="0.9"/>
<text x="47.2" y="444.4" font-size="10.3" text-anchor="end" fill="#222">2</text>
<line x1="48.800000000000004" y1="388.0" x2="51.6" y2="388.0" stroke="#3a3a3a" stroke-width="0.9"/>
<text x="47.2" y="391.7" font-size="10.3" text-anchor="end" fill="#222">4</text>
<line x1="58.7" y1="494" x2="131.8" y2="494" stroke="#3a3a3a" stroke-width="1.25"/>
<line x1="64.7" y1="493.9" x2="64.7" y2="496.6" stroke="#3a3a3a" stroke-width="0.9"/>
<line x1="125.4" y1="493.9" x2="125.4" y2="496.6" stroke="#3a3a3a" stroke-width="0.9"/>
<text x="65.9" y="508.2" font-size="10.3" text-anchor="middle" fill="#222">Easy</text>
<text x="126.4" y="508.2" font-size="10.3" text-anchor="middle" fill="#222">Hard</text>
<text x="36" y="441.5" font-size="10.3" text-anchor="middle" fill="#111" transform="rotate(-90 36 441.5)">d'</text>
<path d="M64.7 390.4V387.3H125.4V390.4" stroke="#111" stroke-width="1.3" fill="none"/>
<text x="95.45000000000002" y="390.2" font-size="12" text-anchor="middle" fill="#111">***</text>
<rect x="58.7" y="405.4" width="12" height="39.3" fill="#bfe5d6"/>
<rect x="58.7" y="412.2" width="12" height="25.3" fill="#8fd3b9"/>
<rect x="119.4" y="464.7" width="12" height="15.0" fill="#bfe5d6"/>
<rect x="119.4" y="468.4" width="12" height="7.6" fill="#8fd3b9"/>
<line x1="64.7" y1="395.1" x2="125.4" y2="467.6" stroke="#1ba67a" stroke-width="0.85"/>
<line x1="64.7" y1="401.4" x2="125.4" y2="471.5" stroke="#1ba67a" stroke-width="0.85"/>
<line x1="64.7" y1="414.6" x2="125.4" y2="462.0" stroke="#1ba67a" stroke-width="0.85"/>
<line x1="64.7" y1="419.1" x2="125.4" y2="475.0" stroke="#1ba67a" stroke-width="0.85"/>
<line x1="64.7" y1="422.5" x2="125.4" y2="464.9" stroke="#1ba67a" stroke-width="0.85"/>
<line x1="64.7" y1="426.2" x2="125.4" y2="469.7" stroke="#1ba67a" stroke-width="0.85"/>
<line x1="64.7" y1="429.6" x2="125.4" y2="477.1" stroke="#1ba67a" stroke-width="0.85"/>
<line x1="64.7" y1="432.8" x2="125.4" y2="473.4" stroke="#1ba67a" stroke-width="0.85"/>
<line x1="64.7" y1="445.2" x2="125.4" y2="478.9" stroke="#1ba67a" stroke-width="0.85"/>
<line x1="64.7" y1="461.3" x2="125.4" y2="485.0" stroke="#1ba67a" stroke-width="0.85"/>
<circle cx="64.7" cy="395.1" r="2.5" fill="#1ba67a"/>
<circle cx="64.7" cy="401.4" r="2.5" fill="#1ba67a"/>
<circle cx="64.7" cy="414.6" r="2.5" fill="#1ba67a"/>
<circle cx="64.7" cy="419.1" r="2.5" fill="#1ba67a"/>
<circle cx="64.7" cy="422.5" r="2.5" fill="#1ba67a"/>
<circle cx="64.7" cy="426.2" r="2.5" fill="#1ba67a"/>
<circle cx="64.7" cy="429.6" r="2.5" fill="#1ba67a"/>
<circle cx="64.7" cy="432.8" r="2.5" fill="#1ba67a"/>
<circle cx="64.7" cy="445.2" r="2.5" fill="#1ba67a"/>
<circle cx="64.7" cy="461.3" r="2.5" fill="#1ba67a"/>
<circle cx="125.4" cy="462.0" r="2.5" fill="#1ba67a"/>
<circle cx="125.4" cy="464.9" r="2.5" fill="#1ba67a"/>
<circle cx="125.4" cy="467.6" r="2.5" fill="#1ba67a"/>
<circle cx="125.4" cy="469.7" r="2.5" fill="#1ba67a"/>
<circle cx="125.4" cy="471.5" r="2.5" fill="#1ba67a"/>
<circle cx="125.4" cy="473.4" r="2.5" fill="#1ba67a"/>
<circle cx="125.4" cy="475.0" r="2.5" fill="#1ba67a"/>
<circle cx="125.4" cy="477.1" r="2.5" fill="#1ba67a"/>
<circle cx="125.4" cy="478.9" r="2.5" fill="#1ba67a"/>
<circle cx="125.4" cy="485.0" r="2.5" fill="#1ba67a"/>
<line x1="58.7" y1="424.9" x2="70.7" y2="424.9" stroke="#1ba67a" stroke-width="1.8"/>
<line x1="119.4" y1="472.1" x2="131.4" y2="472.1" stroke="#1ba67a" stroke-width="1.8"/>
<text x="199.5" y="364.9" font-size="12" text-anchor="start" fill="#000" font-weight="bold">f</text>
<text x="265.8" y="375" font-size="10.3" text-anchor="middle" fill="#111">Low attention</text>
<line x1="225.8" y1="386.9" x2="225.8" y2="494" stroke="#3a3a3a" stroke-width="1.25"/>
<line x1="223.0" y1="493.4" x2="225.8" y2="493.4" stroke="#3a3a3a" stroke-width="0.9"/>
<text x="221.4" y="497.09999999999997" font-size="10.3" text-anchor="end" fill="#222">0</text>
<line x1="223.0" y1="440.7" x2="225.8" y2="440.7" stroke="#3a3a3a" stroke-width="0.9"/>
<text x="221.4" y="444.4" font-size="10.3" text-anchor="end" fill="#222">2</text>
<line x1="223.0" y1="388.0" x2="225.8" y2="388.0" stroke="#3a3a3a" stroke-width="0.9"/>
<text x="221.4" y="391.7" font-size="10.3" text-anchor="end" fill="#222">4</text>
<line x1="233" y1="494" x2="306.29999999999995" y2="494" stroke="#3a3a3a" stroke-width="1.25"/>
<line x1="239" y1="493.9" x2="239" y2="496.6" stroke="#3a3a3a" stroke-width="0.9"/>
<line x1="299.9" y1="493.9" x2="299.9" y2="496.6" stroke="#3a3a3a" stroke-width="0.9"/>
<text x="240.2" y="508.2" font-size="10.3" text-anchor="middle" fill="#222">Easy</text>
<text x="300.9" y="508.2" font-size="10.3" text-anchor="middle" fill="#222">Hard</text>
<text x="210.8" y="441.5" font-size="10.3" text-anchor="middle" fill="#111" transform="rotate(-90 210.8 441.5)">d'</text>
<path d="M239 390.4V387.3H299.9V390.4" stroke="#111" stroke-width="1.3" fill="none"/>
<text x="269.84999999999997" y="390.2" font-size="12" text-anchor="middle" fill="#111">***</text>
<rect x="233" y="432.8" width="12" height="21.3" fill="#bfe5d6"/>
<rect x="233" y="437.5" width="12" height="11.1" fill="#8fd3b9"/>
<rect x="293.9" y="471.0" width="12" height="15.0" fill="#bfe5d6"/>
<rect x="293.9" y="475.0" width="12" height="7.4" fill="#8fd3b9"/>
<line x1="239" y1="426.5" x2="299.9" y2="476.0" stroke="#1ba67a" stroke-width="0.85"/>
<line x1="239" y1="432.0" x2="299.9" y2="464.4" stroke="#1ba67a" stroke-width="0.85"/>
<line x1="239" y1="438.1" x2="299.9" y2="479.2" stroke="#1ba67a" stroke-width="0.85"/>
<line x1="239" y1="442.0" x2="299.9" y2="477.6" stroke="#1ba67a" stroke-width="0.85"/>
<line x1="239" y1="444.4" x2="299.9" y2="481.0" stroke="#1ba67a" stroke-width="0.85"/>
<line x1="239" y1="446.8" x2="299.9" y2="467.7" stroke="#1ba67a" stroke-width="0.85"/>
<line x1="239" y1="449.1" x2="299.9" y2="482.9" stroke="#1ba67a" stroke-width="0.85"/>
<line x1="239" y1="451.2" x2="299.9" y2="486.5" stroke="#1ba67a" stroke-width="0.85"/>
<line x1="239" y1="453.3" x2="299.9" y2="488.7" stroke="#1ba67a" stroke-width="0.85"/>
<line x1="239" y1="463.1" x2="299.9" y2="484.7" stroke="#1ba67a" stroke-width="0.85"/>
<circle cx="239" cy="426.5" r="2.5" fill="#1ba67a"/>
<circle cx="239" cy="432.0" r="2.5" fill="#1ba67a"/>
<circle cx="239" cy="438.1" r="2.5" fill="#1ba67a"/>
<circle cx="239" cy="442.0" r="2.5" fill="#1ba67a"/>
<circle cx="239" cy="444.4" r="2.5" fill="#1ba67a"/>
<circle cx="239" cy="446.8" r="2.5" fill="#1ba67a"/>
<circle cx="239" cy="449.1" r="2.5" fill="#1ba67a"/>
<circle cx="239" cy="451.2" r="2.5" fill="#1ba67a"/>
<circle cx="239" cy="453.3" r="2.5" fill="#1ba67a"/>
<circle cx="239" cy="463.1" r="2.5" fill="#1ba67a"/>
<circle cx="299.9" cy="464.4" r="2.5" fill="#1ba67a"/>
<circle cx="299.9" cy="467.7" r="2.5" fill="#1ba67a"/>
<circle cx="299.9" cy="476.0" r="2.5" fill="#1ba67a"/>
<circle cx="299.9" cy="477.6" r="2.5" fill="#1ba67a"/>
<circle cx="299.9" cy="479.2" r="2.5" fill="#1ba67a"/>
<circle cx="299.9" cy="481.0" r="2.5" fill="#1ba67a"/>
<circle cx="299.9" cy="482.9" r="2.5" fill="#1ba67a"/>
<circle cx="299.9" cy="484.7" r="2.5" fill="#1ba67a"/>
<circle cx="299.9" cy="486.5" r="2.5" fill="#1ba67a"/>
<circle cx="299.9" cy="488.7" r="2.5" fill="#1ba67a"/>
<line x1="233" y1="443.3" x2="245" y2="443.3" stroke="#1ba67a" stroke-width="1.8"/>
<line x1="293.9" y1="478.8" x2="305.9" y2="478.8" stroke="#1ba67a" stroke-width="1.8"/>
<text x="364.5" y="365.8" font-size="12" text-anchor="start" fill="#000" font-weight="bold">g</text>
<line x1="452.2" y1="498.4" x2="520.2" y2="440.4" stroke="#dedede" stroke-width="0.7"/>
<line x1="487.1" y1="505.6" x2="555.1" y2="447.6" stroke="#dedede" stroke-width="0.7"/>
<line x1="522.1" y1="512.8" x2="590.1" y2="454.8" stroke="#dedede" stroke-width="0.7"/>
<line x1="434.3" y1="476.7" x2="574.0" y2="505.5" stroke="#dedede" stroke-width="0.7"/>
<line x1="451.3" y1="462.2" x2="591.0" y2="491.0" stroke="#dedede" stroke-width="0.7"/>
<line x1="468.3" y1="447.7" x2="608.0" y2="476.5" stroke="#dedede" stroke-width="0.7"/>
<line x1="434.3" y1="476.7" x2="434.3" y2="379.0" stroke="#dedede" stroke-width="0.7"/>
<line x1="451.3" y1="462.2" x2="451.3" y2="364.5" stroke="#dedede" stroke-width="0.7"/>
<line x1="468.3" y1="447.7" x2="468.3" y2="350.0" stroke="#dedede" stroke-width="0.7"/>
<line x1="417.3" y1="466.8" x2="485.3" y2="408.8" stroke="#dedede" stroke-width="0.7"/>
<line x1="417.3" y1="442.3" x2="485.3" y2="384.3" stroke="#dedede" stroke-width="0.7"/>
<line x1="417.3" y1="417.9" x2="485.3" y2="359.9" stroke="#dedede" stroke-width="0.7"/>
<line x1="520.2" y1="440.4" x2="520.2" y2="342.7" stroke="#dedede" stroke-width="0.7"/>
<line x1="555.1" y1="447.6" x2="555.1" y2="349.9" stroke="#dedede" stroke-width="0.7"/>
<line x1="590.1" y1="454.8" x2="590.1" y2="357.1" stroke="#dedede" stroke-width="0.7"/>
<line x1="485.3" y1="408.8" x2="625.0" y2="437.6" stroke="#dedede" stroke-width="0.7"/>
<line x1="485.3" y1="384.3" x2="625.0" y2="413.1" stroke="#dedede" stroke-width="0.7"/>
<line x1="485.3" y1="359.9" x2="625.0" y2="388.7" stroke="#dedede" stroke-width="0.7"/>
<line x1="417.3" y1="393.5" x2="485.3" y2="335.5" stroke="#d2d2d2" stroke-width="0.7"/>
<line x1="485.3" y1="335.5" x2="625.0" y2="364.3" stroke="#d2d2d2" stroke-width="0.7"/>
<line x1="485.3" y1="433.2" x2="485.3" y2="335.5" stroke="#d2d2d2" stroke-width="0.7"/>
<line x1="625.0" y1="462.0" x2="625.0" y2="364.3" stroke="#d2d2d2" stroke-width="0.7"/>
<line x1="417.3" y1="491.2" x2="485.3" y2="433.2" stroke="#d2d2d2" stroke-width="0.7"/>
<line x1="485.3" y1="433.2" x2="625.0" y2="462.0" stroke="#d2d2d2" stroke-width="0.7"/>
<line x1="417.3" y1="491.2" x2="417.3" y2="393.5" stroke="#3a3a3a" stroke-width="1.1"/>
<line x1="417.3" y1="491.2" x2="557.0" y2="520.0" stroke="#3a3a3a" stroke-width="1.1"/>
<line x1="557.0" y1="520.0" x2="625.0" y2="462.0" stroke="#3a3a3a" stroke-width="1.1"/>
<line x1="414.3" y1="392.9" x2="417.3" y2="393.5" stroke="#3a3a3a" stroke-width="0.8"/>
<text x="413.6" y="396.9" font-size="10" text-anchor="end" fill="#4d4d4d">1</text>
<line x1="414.3" y1="417.3" x2="417.3" y2="417.9" stroke="#3a3a3a" stroke-width="0.8"/>
<text x="413.6" y="421.3" font-size="10" text-anchor="end" fill="#4d4d4d">0.5</text>
<line x1="414.3" y1="441.7" x2="417.3" y2="442.3" stroke="#3a3a3a" stroke-width="0.8"/>
<text x="413.6" y="445.7" font-size="10" text-anchor="end" fill="#4d4d4d">0</text>
<line x1="414.3" y1="466.2" x2="417.3" y2="466.8" stroke="#3a3a3a" stroke-width="0.8"/>
<text x="413.6" y="470.2" font-size="10" text-anchor="end" fill="#4d4d4d">-0.5</text>
<line x1="414.3" y1="490.6" x2="417.3" y2="491.2" stroke="#3a3a3a" stroke-width="0.8"/>
<text x="413.6" y="494.6" font-size="10" text-anchor="end" fill="#4d4d4d">-1</text>
<line x1="417.3" y1="491.2" x2="415.0" y2="493.2" stroke="#3a3a3a" stroke-width="0.9"/>
<text x="404.9" y="504.1" font-size="10" text-anchor="middle" fill="#4d4d4d">0.5</text>
<line x1="452.2" y1="498.4" x2="449.9" y2="500.4" stroke="#3a3a3a" stroke-width="0.9"/>
<text x="444.4" y="511.3" font-size="10" text-anchor="middle" fill="#4d4d4d">1</text>
<line x1="487.1" y1="505.6" x2="484.8" y2="507.6" stroke="#3a3a3a" stroke-width="0.9"/>
<text x="474.8" y="518.5" font-size="10" text-anchor="middle" fill="#4d4d4d">1.5</text>
<line x1="522.1" y1="512.8" x2="519.8" y2="514.8" stroke="#3a3a3a" stroke-width="0.9"/>
<text x="514.3" y="525.7" font-size="10" text-anchor="middle" fill="#4d4d4d">2</text>
<line x1="557.0" y1="520.0" x2="554.7" y2="522.0" stroke="#3a3a3a" stroke-width="0.9"/>
<text x="544.6" y="532.9" font-size="10" text-anchor="middle" fill="#4d4d4d">2.5</text>
<line x1="574.0" y1="505.5" x2="577.2" y2="506.2" stroke="#3a3a3a" stroke-width="0.9"/>
<text x="582.8" y="515.8" font-size="10" text-anchor="middle" fill="#4d4d4d">-1</text>
<line x1="591.0" y1="491.0" x2="594.2" y2="491.7" stroke="#3a3a3a" stroke-width="0.9"/>
<text x="598.3" y="501.3" font-size="10" text-anchor="middle" fill="#4d4d4d">0</text>
<line x1="608.0" y1="476.5" x2="611.2" y2="477.2" stroke="#3a3a3a" stroke-width="0.9"/>
<text x="614.7" y="486.8" font-size="10" text-anchor="middle" fill="#4d4d4d">1</text>
<text x="395" y="442" font-size="10.3" text-anchor="middle" fill="#111" transform="rotate(-90 395 442)">Attention</text>
<text x="472.8" y="530.6" font-size="10.3" text-anchor="middle" fill="#111" transform="rotate(12 472.8 530.6)">Time from stimulus (s)</text>
<text x="611" y="506.8" font-size="10.3" text-anchor="middle" fill="#111" transform="rotate(-41 611 506.8)">Choice</text>
<path d="M451.2 398.7C454.0 399.3 462.5 401.1 468.0 402.3C473.5 403.6 478.9 404.5 484.2 406.2C489.5 407.9 494.4 410.1 500.0 412.4C505.6 414.7 511.9 417.1 517.9 419.8C523.9 422.5 529.5 425.7 535.7 428.7C541.9 431.7 551.9 436.2 555.1 437.7" stroke="#e4592b" stroke-width="1.3" fill="none" stroke-linecap="round"/>
<path d="M451.2 398.7C454.0 399.3 462.5 401.1 468.0 402.3C473.5 403.6 478.9 404.7 484.2 406.2C489.5 407.7 493.4 410.0 500.0 411.5C506.6 413.0 515.9 414.5 523.8 415.0C531.7 415.5 540.6 414.3 547.6 414.4C554.6 414.5 560.2 415.1 565.5 415.6C570.8 416.2 576.9 417.4 579.2 417.7" stroke="#f3952d" stroke-width="1.3" fill="none" stroke-linecap="round"/>
<path d="M451.2 398.7C454.0 399.3 462.5 401.1 468.0 402.3C473.5 403.6 478.9 404.8 484.2 406.2C489.5 407.6 493.4 409.6 500.0 410.6C506.6 411.6 514.9 412.7 523.8 412.1C532.7 411.5 544.7 408.8 553.6 407.0C562.5 405.2 569.7 402.7 577.4 401.6C585.1 400.5 596.1 400.4 599.8 400.2" stroke="#58b4de" stroke-width="1.3" fill="none" stroke-linecap="round"/>
<path d="M451.2 398.7C454.0 399.3 462.5 401.1 468.0 402.3C473.5 403.6 478.9 405.1 484.2 406.2C489.5 407.3 494.4 408.5 500.0 409.1C505.6 409.7 512.1 410.4 517.9 410.0C523.7 409.6 529.0 408.0 535.0 406.5C541.0 405.0 544.6 404.1 553.6 401.0C562.6 397.9 577.6 391.2 589.3 387.6C601.0 384.0 617.9 380.7 623.6 379.3" stroke="#2272b4" stroke-width="1.3" fill="none" stroke-linecap="round"/>
<path d="M451.2 427.5C454.0 428.1 462.5 429.9 468.0 431.0C473.5 432.1 478.9 433.0 484.2 434.2C489.5 435.4 494.4 435.9 500.0 438.3C505.6 440.7 511.9 444.2 517.9 448.7C523.9 453.2 529.8 459.6 535.7 465.1C541.7 470.6 548.0 476.9 553.6 481.5C559.2 486.1 566.5 490.9 569.1 492.8" stroke="#e4592b" stroke-width="1.3" fill="none" stroke-linecap="round"/>
<path d="M451.2 427.5C454.0 428.1 462.5 429.9 468.0 431.0C473.5 432.1 478.9 433.2 484.2 434.2C489.5 435.2 494.4 435.7 500.0 437.1C505.6 438.5 511.4 439.6 517.9 442.7C524.4 445.8 530.8 450.5 538.7 455.5C546.6 460.5 557.9 468.5 565.5 472.5C573.1 476.5 581.2 478.2 584.3 479.4" stroke="#f3952d" stroke-width="1.3" fill="none" stroke-linecap="round"/>
<path d="M451.2 427.5C454.0 428.1 462.5 429.9 468.0 431.0C473.5 432.1 478.9 433.4 484.2 434.2C489.5 435.0 494.4 435.0 500.0 435.9C505.6 436.8 510.4 437.2 517.9 439.8C525.4 442.4 535.3 447.6 544.7 451.7C554.1 455.8 566.1 461.3 574.4 464.5C582.7 467.7 591.3 469.9 594.7 471.0" stroke="#58b4de" stroke-width="1.3" fill="none" stroke-linecap="round"/>
<path d="M451.2 427.5C454.0 428.1 462.5 429.9 468.0 431.0C473.5 432.1 478.9 433.5 484.2 434.2C489.5 434.9 494.4 434.9 500.0 435.3C505.6 435.7 510.4 435.6 517.9 436.8C525.4 438.0 535.3 440.1 544.7 442.7C554.1 445.3 566.0 450.3 574.4 452.6C582.8 454.9 589.3 455.8 595.3 456.7C601.3 457.6 607.7 457.7 610.2 457.9" stroke="#2272b4" stroke-width="1.3" fill="none" stroke-linecap="round"/>
<line x1="638.8" y1="355.8" x2="650.4" y2="355.8" stroke="#2272b4" stroke-width="1.3"/>
<text x="655.4" y="359.5" font-size="10.3" text-anchor="start" fill="#111">Left easy</text>
<line x1="638.8" y1="367.6" x2="650.4" y2="367.6" stroke="#58b4de" stroke-width="1.3"/>
<text x="655.4" y="371.3" font-size="10.3" text-anchor="start" fill="#111">Left hard</text>
<line x1="638.8" y1="379.4" x2="650.4" y2="379.4" stroke="#f3952d" stroke-width="1.3"/>
<text x="655.4" y="383.1" font-size="10.3" text-anchor="start" fill="#111">Right hard</text>
<line x1="638.8" y1="391.2" x2="650.4" y2="391.2" stroke="#e4592b" stroke-width="1.3"/>
<text x="655.4" y="394.9" font-size="10.3" text-anchor="start" fill="#111">Right easy</text>
<text x="23" y="562.4" font-size="12" text-anchor="start" fill="#000" font-weight="bold">h</text>
<g shape-rendering="crispEdges">
<path d="M60.10 572.90H62.24V575.04H60.10zM61.94 574.74H65.92V578.72H61.94zM65.62 578.42H69.61V582.41H65.62zM69.31 582.11H73.29V586.09H69.31zM72.99 585.79H76.97V589.77H72.99zM76.67 589.48H80.66V593.46H76.67zM80.36 593.16H84.34V597.14H80.36zM84.04 596.84H88.02V600.82H84.04zM87.72 600.52H91.71V604.51H87.72zM91.41 604.21H95.39V608.19H91.41zM95.09 607.89H99.08V611.87H95.09zM98.78 611.57H102.76V615.56H98.78zM102.46 615.26H106.44V619.24H102.46zM106.14 618.94H110.12V622.92H106.14zM109.82 622.62H113.81V626.61H109.82zM113.51 626.31H117.49V630.29H113.51zM117.19 629.99H121.17V633.97H117.19zM120.88 633.67H124.86V637.66H120.88zM124.56 637.36H128.54V641.34H124.56zM128.24 641.04H132.23V645.02H128.24zM131.93 644.73H135.91V648.71H131.93zM135.61 648.41H139.59V652.39H135.61zM139.29 652.09H143.28V656.07H139.29zM142.97 655.77H146.96V659.76H142.97zM146.66 659.46H150.64V663.44H146.66zM150.34 663.14H154.33V667.12H150.34zM154.03 666.82H158.01V670.81H154.03zM157.71 670.51H161.69V674.49H157.71zM161.39 674.19H165.38V678.17H161.39zM165.07 677.88H169.06V681.86H165.07zM168.76 681.56H170.90V683.70H168.76z" fill="#4d48a0"/>
<path d="M135.61 644.73H139.59V648.71H135.61zM131.93 648.41H135.91V652.39H131.93zM139.29 648.41H143.28V652.39H139.29zM135.61 652.09H139.59V656.07H135.61zM142.97 652.09H146.96V656.07H142.97zM139.29 655.77H143.28V659.76H139.29zM146.66 655.77H150.64V659.76H146.66zM142.97 659.46H146.96V663.44H142.97zM150.34 659.46H154.33V663.44H150.34zM146.66 663.14H150.64V667.12H146.66zM154.03 663.14H158.01V667.12H154.03zM150.34 666.82H154.33V670.81H150.34zM157.71 666.82H161.69V670.81H157.71zM154.03 670.51H158.01V674.49H154.03zM161.39 670.51H165.38V674.49H161.39zM157.71 674.19H161.69V678.17H157.71zM165.07 674.19H169.06V678.17H165.07zM161.39 677.88H165.38V681.86H161.39zM168.76 677.88H170.90V681.86H168.76zM165.07 681.56H169.06V683.70H165.07z" fill="#4e59b3"/>
<path d="M84.04 593.16H88.02V597.14H84.04zM80.36 596.84H84.34V600.82H80.36zM87.72 596.84H91.71V600.82H87.72zM84.04 600.52H88.02V604.51H84.04zM91.41 600.52H95.39V604.51H91.41zM87.72 604.21H91.71V608.19H87.72zM95.09 604.21H99.08V608.19H95.09zM91.41 607.89H95.39V611.87H91.41zM98.78 607.89H102.76V611.87H98.78zM95.09 611.57H99.08V615.56H95.09zM102.46 611.57H110.12V615.56H102.46zM98.78 615.26H102.76V619.24H98.78zM106.14 615.26H113.81V619.24H106.14zM98.78 618.94H106.44V622.92H98.78zM109.82 618.94H117.49V622.92H109.82zM102.46 622.62H110.12V626.61H102.46zM113.51 622.62H121.17V626.61H113.51zM106.14 626.31H113.81V630.29H106.14zM117.19 626.31H124.86V630.29H117.19zM109.82 629.99H117.49V633.97H109.82zM120.88 629.99H132.23V633.97H120.88zM113.51 633.67H121.17V637.66H113.51zM124.56 633.67H135.91V637.66H124.56zM117.19 637.36H124.86V641.34H117.19zM128.24 637.36H139.59V641.34H128.24zM117.19 641.04H128.54V645.02H117.19zM131.93 641.04H143.28V645.02H131.93zM120.88 644.73H132.23V648.71H120.88zM139.29 644.73H146.96V648.71H139.29zM124.56 648.41H132.23V652.39H124.56zM142.97 648.41H150.64V652.39H142.97zM128.24 652.09H135.91V656.07H128.24zM146.66 652.09H158.01V656.07H146.66zM131.93 655.77H139.59V659.76H131.93zM150.34 655.77H161.69V659.76H150.34zM135.61 659.46H143.28V663.44H135.61zM154.03 659.46H165.38V663.44H154.03zM139.29 663.14H146.96V667.12H139.29zM157.71 663.14H169.06V667.12H157.71zM139.29 666.82H150.64V670.81H139.29zM161.39 666.82H170.90V670.81H161.39zM142.97 670.51H154.33V674.49H142.97zM165.07 670.51H170.90V674.49H165.07zM146.66 674.19H158.01V678.17H146.66zM168.76 674.19H170.90V678.17H168.76zM150.34 677.88H161.69V681.86H150.34zM154.03 681.56H165.38V683.70H154.03z" fill="#4d5eb5"/>
<path d="M80.36 589.48H84.34V593.46H80.36zM76.67 593.16H80.66V597.14H76.67zM91.41 596.84H95.39V600.82H91.41zM95.09 600.52H99.08V604.51H95.09zM84.04 604.21H88.02V608.19H84.04zM98.78 604.21H102.76V608.19H98.78zM87.72 607.89H91.71V611.87H87.72zM102.46 607.89H106.44V611.87H102.46zM91.41 611.57H95.39V615.56H91.41zM109.82 611.57H113.81V615.56H109.82zM95.09 615.26H99.08V619.24H95.09zM113.51 615.26H117.49V619.24H113.51zM117.19 618.94H121.17V622.92H117.19zM98.78 622.62H102.76V626.61H98.78zM120.88 622.62H128.54V626.61H120.88zM102.46 626.31H106.44V630.29H102.46zM124.56 626.31H132.23V630.29H124.56zM106.14 629.99H110.12V633.97H106.14zM131.93 629.99H135.91V633.97H131.93zM109.82 633.67H113.81V637.66H109.82zM135.61 633.67H139.59V637.66H135.61zM109.82 637.36H117.49V641.34H109.82zM139.29 637.36H146.96V641.34H139.29zM113.51 641.04H117.49V645.02H113.51zM142.97 641.04H150.64V645.02H142.97zM117.19 644.73H121.17V648.71H117.19zM146.66 644.73H154.33V648.71H146.66zM120.88 648.41H124.86V652.39H120.88zM150.34 648.41H161.69V652.39H150.34zM124.56 652.09H128.54V656.07H124.56zM157.71 652.09H165.38V656.07H157.71zM124.56 655.77H132.23V659.76H124.56zM161.39 655.77H169.06V659.76H161.39zM128.24 659.46H135.91V663.44H128.24zM165.07 659.46H170.90V663.44H165.07zM131.93 663.14H139.59V667.12H131.93zM168.76 663.14H170.90V667.12H168.76zM135.61 666.82H139.59V670.81H135.61zM135.61 670.51H143.28V674.49H135.61zM139.29 674.19H146.96V678.17H139.29zM142.97 677.88H150.64V681.86H142.97zM146.66 681.56H154.33V683.70H146.66z" fill="#4c62b8"/>
<path d="M76.67 585.79H80.66V589.77H76.67zM72.99 589.48H76.97V593.46H72.99zM87.72 593.16H91.71V597.14H87.72zM80.36 600.52H84.34V604.51H80.36zM98.78 600.52H102.76V604.51H98.78zM102.46 604.21H106.44V608.19H102.46zM106.14 607.89H110.12V611.87H106.14zM87.72 611.57H91.71V615.56H87.72zM113.51 611.57H117.49V615.56H113.51zM91.41 615.26H95.39V619.24H91.41zM117.19 615.26H121.17V619.24H117.19zM95.09 618.94H99.08V622.92H95.09zM120.88 618.94H128.54V622.92H120.88zM128.24 622.62H132.23V626.61H128.24zM98.78 626.31H102.76V630.29H98.78zM131.93 626.31H135.91V630.29H131.93zM102.46 629.99H106.44V633.97H102.46zM135.61 629.99H143.28V633.97H135.61zM106.14 633.67H110.12V637.66H106.14zM139.29 633.67H146.96V637.66H139.29zM106.14 637.36H110.12V641.34H106.14zM146.66 637.36H154.33V641.34H146.66zM109.82 641.04H113.81V645.02H109.82zM150.34 641.04H158.01V645.02H150.34zM113.51 644.73H117.49V648.71H113.51zM154.03 644.73H161.69V648.71H154.03zM117.19 648.41H121.17V652.39H117.19zM161.39 648.41H169.06V652.39H161.39zM117.19 652.09H124.86V656.07H117.19zM165.07 652.09H170.90V656.07H165.07zM120.88 655.77H124.86V659.76H120.88zM168.76 655.77H170.90V659.76H168.76zM124.56 659.46H128.54V663.44H124.56zM124.56 663.14H132.23V667.12H124.56zM128.24 666.82H135.91V670.81H128.24zM131.93 670.51H135.91V674.49H131.93zM135.61 674.19H139.59V678.17H135.61zM135.61 677.88H143.28V681.86H135.61zM139.29 681.56H146.96V683.70H139.29z" fill="#4c66bb"/>
<path d="M84.04 589.48H88.02V593.46H84.04zM91.41 593.16H95.39V597.14H91.41zM76.67 596.84H80.66V600.82H76.67zM95.09 596.84H99.08V600.82H95.09zM102.46 600.52H106.44V604.51H102.46zM80.36 604.21H84.34V608.19H80.36zM106.14 604.21H110.12V608.19H106.14zM84.04 607.89H88.02V611.87H84.04zM109.82 607.89H117.49V611.87H109.82zM117.19 611.57H121.17V615.56H117.19zM87.72 615.26H91.71V619.24H87.72zM120.88 615.26H128.54V619.24H120.88zM91.41 618.94H95.39V622.92H91.41zM128.24 618.94H132.23V622.92H128.24zM95.09 622.62H99.08V626.61H95.09zM131.93 622.62H139.59V626.61H131.93zM95.09 626.31H99.08V630.29H95.09zM135.61 626.31H143.28V630.29H135.61zM98.78 629.99H102.76V633.97H98.78zM142.97 629.99H150.64V633.97H142.97zM102.46 633.67H106.44V637.66H102.46zM146.66 633.67H154.33V637.66H146.66zM102.46 637.36H106.44V641.34H102.46zM154.03 637.36H161.69V641.34H154.03zM106.14 641.04H110.12V645.02H106.14zM157.71 641.04H165.38V645.02H157.71zM109.82 644.73H113.81V648.71H109.82zM161.39 644.73H170.90V648.71H161.39zM109.82 648.41H117.49V652.39H109.82zM168.76 648.41H170.90V652.39H168.76zM113.51 652.09H117.49V656.07H113.51zM117.19 655.77H121.17V659.76H117.19zM117.19 659.46H124.86V663.44H117.19zM120.88 663.14H124.86V667.12H120.88zM124.56 666.82H128.54V670.81H124.56zM124.56 670.51H132.23V674.49H124.56zM128.24 674.19H135.91V678.17H128.24zM131.93 677.88H135.91V681.86H131.93zM131.93 681.56H139.59V683.70H131.93z" fill="#4b6bbd"/>
<path d="M98.78 596.84H102.76V600.82H98.78zM109.82 604.21H113.81V608.19H109.82zM84.04 611.57H88.02V615.56H84.04zM120.88 611.57H124.86V615.56H120.88zM128.24 615.26H132.23V619.24H128.24zM131.93 618.94H135.91V622.92H131.93zM91.41 622.62H95.39V626.61H91.41zM139.29 622.62H143.28V626.61H139.29zM142.97 626.31H146.96V630.29H142.97zM150.34 629.99H154.33V633.97H150.34zM98.78 633.67H102.76V637.66H98.78zM154.03 633.67H161.69V637.66H154.03zM161.39 637.36H165.38V641.34H161.39zM102.46 641.04H106.44V645.02H102.46zM165.07 641.04H170.90V645.02H165.07zM106.14 644.73H110.12V648.71H106.14zM109.82 652.09H113.81V656.07H109.82zM113.51 655.77H117.49V659.76H113.51zM117.19 663.14H121.17V667.12H117.19zM120.88 666.82H124.86V670.81H120.88zM120.88 670.51H124.86V674.49H120.88zM124.56 674.19H128.54V678.17H124.56zM128.24 677.88H132.23V681.86H128.24zM128.24 681.56H132.23V683.70H128.24z" fill="#4a6fc0"/>
<path d="M72.99 582.11H76.97V586.09H72.99zM69.31 585.79H73.29V589.77H69.31zM80.36 585.79H84.34V589.77H80.36zM87.72 589.48H91.71V593.46H87.72zM72.99 593.16H76.97V597.14H72.99zM95.09 593.16H99.08V597.14H95.09zM76.67 600.52H80.66V604.51H76.67zM106.14 600.52H110.12V604.51H106.14zM113.51 604.21H117.49V608.19H113.51zM80.36 607.89H84.34V611.87H80.36zM117.19 607.89H124.86V611.87H117.19zM124.56 611.57H128.54V615.56H124.56zM131.93 615.26H135.91V619.24H131.93zM87.72 618.94H91.71V622.92H87.72zM135.61 618.94H143.28V622.92H135.61zM142.97 622.62H146.96V626.61H142.97zM91.41 626.31H95.39V630.29H91.41zM146.66 626.31H154.33V630.29H146.66zM95.09 629.99H99.08V633.97H95.09zM154.03 629.99H161.69V633.97H154.03zM95.09 633.67H99.08V637.66H95.09zM161.39 633.67H169.06V637.66H161.39zM98.78 637.36H102.76V641.34H98.78zM165.07 637.36H170.90V641.34H165.07zM102.46 644.73H106.44V648.71H102.46zM106.14 648.41H110.12V652.39H106.14zM106.14 652.09H110.12V656.07H106.14zM109.82 655.77H113.81V659.76H109.82zM113.51 659.46H117.49V663.44H113.51zM113.51 663.14H117.49V667.12H113.51zM117.19 666.82H121.17V670.81H117.19zM117.19 670.51H121.17V674.49H117.19zM120.88 674.19H124.86V678.17H120.88zM120.88 677.88H128.54V681.86H120.88zM124.56 681.56H128.54V683.70H124.56z" fill="#4874c3"/>
<path d="M76.67 582.11H80.66V586.09H76.67zM69.31 589.48H73.29V593.46H69.31zM91.41 589.48H95.39V593.46H91.41zM98.78 593.16H102.76V597.14H98.78zM102.46 596.84H106.44V600.82H102.46zM109.82 600.52H113.81V604.51H109.82zM76.67 604.21H80.66V608.19H76.67zM117.19 604.21H121.17V608.19H117.19zM124.56 607.89H128.54V611.87H124.56zM80.36 611.57H84.34V615.56H80.36zM128.24 611.57H135.91V615.56H128.24zM84.04 615.26H88.02V619.24H84.04zM135.61 615.26H143.28V619.24H135.61zM142.97 618.94H146.96V622.92H142.97zM87.72 622.62H91.71V626.61H87.72zM146.66 622.62H154.33V626.61H146.66zM154.03 626.31H161.69V630.29H154.03zM91.41 629.99H95.39V633.97H91.41zM161.39 629.99H169.06V633.97H161.39zM168.76 633.67H170.90V637.66H168.76zM95.09 637.36H99.08V641.34H95.09zM98.78 641.04H102.76V645.02H98.78zM98.78 644.73H102.76V648.71H98.78zM102.46 648.41H106.44V652.39H102.46zM102.46 652.09H106.44V656.07H102.46zM106.14 655.77H110.12V659.76H106.14zM109.82 659.46H113.81V663.44H109.82zM109.82 663.14H113.81V667.12H109.82zM113.51 666.82H117.49V670.81H113.51zM113.51 670.51H117.49V674.49H113.51zM117.19 674.19H121.17V678.17H117.19zM117.19 677.88H121.17V681.86H117.19zM120.88 681.56H124.86V683.70H120.88z" fill="#467ac5"/>
<path d="M80.36 582.11H84.34V586.09H80.36zM84.04 585.79H88.02V589.77H84.04zM69.31 593.16H73.29V597.14H69.31zM72.99 596.84H76.97V600.82H72.99zM106.14 596.84H110.12V600.82H106.14zM113.51 600.52H117.49V604.51H113.51zM120.88 604.21H124.86V608.19H120.88zM128.24 607.89H132.23V611.87H128.24zM135.61 611.57H139.59V615.56H135.61zM142.97 615.26H146.96V619.24H142.97zM84.04 618.94H88.02V622.92H84.04zM146.66 618.94H154.33V622.92H146.66zM154.03 622.62H161.69V626.61H154.03zM87.72 626.31H91.71V630.29H87.72zM161.39 626.31H169.06V630.29H161.39zM168.76 629.99H170.90V633.97H168.76zM91.41 633.67H95.39V637.66H91.41zM95.09 641.04H99.08V645.02H95.09zM98.78 648.41H102.76V652.39H98.78zM102.46 655.77H106.44V659.76H102.46zM106.14 659.46H110.12V663.44H106.14zM106.14 663.14H110.12V667.12H106.14zM109.82 666.82H113.81V670.81H109.82zM109.82 670.51H113.81V674.49H109.82zM113.51 674.19H117.49V678.17H113.51zM113.51 677.88H117.49V681.86H113.51zM117.19 681.56H121.17V683.70H117.19z" fill="#447fc8"/>
<path d="M84.04 582.11H88.02V586.09H84.04zM95.09 589.48H99.08V593.46H95.09zM102.46 593.16H106.44V597.14H102.46zM69.31 596.84H73.29V600.82H69.31zM109.82 596.84H113.81V600.82H109.82zM117.19 600.52H121.17V604.51H117.19zM124.56 604.21H132.23V608.19H124.56zM76.67 607.89H80.66V611.87H76.67zM131.93 607.89H139.59V611.87H131.93zM139.29 611.57H146.96V615.56H139.29zM80.36 615.26H84.34V619.24H80.36zM146.66 615.26H154.33V619.24H146.66zM154.03 618.94H161.69V622.92H154.03zM84.04 622.62H88.02V626.61H84.04zM161.39 622.62H169.06V626.61H161.39zM168.76 626.31H170.90V630.29H168.76zM87.72 629.99H91.71V633.97H87.72zM91.41 637.36H95.39V641.34H91.41zM91.41 641.04H95.39V645.02H91.41zM95.09 644.73H99.08V648.71H95.09zM95.09 648.41H99.08V652.39H95.09zM98.78 652.09H102.76V656.07H98.78zM98.78 655.77H102.76V659.76H98.78zM102.46 659.46H106.44V663.44H102.46zM102.46 663.14H106.44V667.12H102.46zM106.14 666.82H110.12V670.81H106.14zM106.14 670.51H110.12V674.49H106.14zM109.82 674.19H113.81V678.17H109.82zM109.82 677.88H113.81V681.86H109.82zM113.51 681.56H117.49V683.70H113.51z" fill="#4384cb"/>
<path d="M87.72 582.11H95.39V586.09H87.72zM87.72 585.79H91.71V589.77H87.72zM98.78 589.48H102.76V593.46H98.78zM106.14 593.16H110.12V597.14H106.14zM113.51 596.84H117.49V600.82H113.51zM69.31 600.52H76.97V604.51H69.31zM120.88 600.52H128.54V604.51H120.88zM69.31 604.21H73.29V608.19H69.31zM131.93 604.21H135.91V608.19H131.93zM139.29 607.89H143.28V611.87H139.29zM76.67 611.57H80.66V615.56H76.67zM146.66 611.57H150.64V615.56H146.66zM154.03 615.26H161.69V619.24H154.03zM80.36 618.94H84.34V622.92H80.36zM161.39 618.94H169.06V622.92H161.39zM168.76 622.62H170.90V626.61H168.76zM84.04 626.31H88.02V630.29H84.04zM87.72 633.67H91.71V637.66H87.72zM87.72 637.36H91.71V641.34H87.72zM91.41 644.73H95.39V648.71H91.41zM95.09 652.09H99.08V656.07H95.09zM98.78 659.46H102.76V663.44H98.78zM102.46 666.82H106.44V670.81H102.46zM102.46 670.51H106.44V674.49H102.46zM106.14 674.19H110.12V678.17H106.14zM106.14 677.88H110.12V681.86H106.14zM109.82 681.56H113.81V683.70H109.82z" fill="#418acd"/>
<path d="M95.09 582.11H99.08V586.09H95.09zM102.46 589.48H106.44V593.46H102.46zM109.82 593.16H113.81V597.14H109.82zM117.19 596.84H124.86V600.82H117.19zM128.24 600.52H132.23V604.51H128.24zM135.61 604.21H143.28V608.19H135.61zM69.31 607.89H73.29V611.87H69.31zM142.97 607.89H150.64V611.87H142.97zM150.34 611.57H158.01V615.56H150.34zM76.67 615.26H80.66V619.24H76.67zM161.39 615.26H169.06V619.24H161.39zM168.76 618.94H170.90V622.92H168.76zM80.36 622.62H84.34V626.61H80.36zM84.04 629.99H88.02V633.97H84.04zM84.04 633.67H88.02V637.66H84.04zM87.72 641.04H91.71V645.02H87.72zM91.41 648.41H95.39V652.39H91.41zM91.41 652.09H95.39V656.07H91.41zM95.09 655.77H99.08V659.76H95.09zM95.09 659.46H99.08V663.44H95.09zM98.78 663.14H102.76V667.12H98.78zM98.78 666.82H102.76V670.81H98.78zM102.46 674.19H106.44V678.17H102.46zM102.46 677.88H106.44V681.86H102.46zM106.14 681.56H110.12V683.70H106.14z" fill="#3f8fd0"/>
<path d="M98.78 582.11H106.44V586.09H98.78zM91.41 585.79H95.39V589.77H91.41zM106.14 589.48H110.12V593.46H106.14zM113.51 593.16H117.49V597.14H113.51zM124.56 596.84H128.54V600.82H124.56zM131.93 600.52H139.59V604.51H131.93zM72.99 604.21H76.97V608.19H72.99zM142.97 604.21H146.96V608.19H142.97zM150.34 607.89H158.01V611.87H150.34zM69.31 611.57H73.29V615.56H69.31zM157.71 611.57H169.06V615.56H157.71zM69.31 615.26H73.29V619.24H69.31zM168.76 615.26H170.90V619.24H168.76zM76.67 618.94H80.66V622.92H76.67zM80.36 626.31H84.34V630.29H80.36zM84.04 637.36H88.02V641.34H84.04zM87.72 644.73H91.71V648.71H87.72zM87.72 648.41H91.71V652.39H87.72zM91.41 655.77H95.39V659.76H91.41zM95.09 663.14H99.08V667.12H95.09zM95.09 666.82H99.08V670.81H95.09zM98.78 670.51H102.76V674.49H98.78zM98.78 674.19H102.76V678.17H98.78zM98.78 677.88H102.76V681.86H98.78zM102.46 681.56H106.44V683.70H102.46z" fill="#3b94d0"/>
<path d="M106.14 582.11H110.12V586.09H106.14zM95.09 585.79H99.08V589.77H95.09zM109.82 589.48H113.81V593.46H109.82zM117.19 593.16H124.86V597.14H117.19zM128.24 596.84H135.91V600.82H128.24zM139.29 600.52H146.96V604.51H139.29zM146.66 604.21H158.01V608.19H146.66zM72.99 607.89H76.97V611.87H72.99zM157.71 607.89H165.38V611.87H157.71zM168.76 611.57H170.90V615.56H168.76zM69.31 618.94H73.29V622.92H69.31zM76.67 622.62H80.66V626.61H76.67zM80.36 629.99H84.34V633.97H80.36zM80.36 633.67H84.34V637.66H80.36zM84.04 641.04H88.02V645.02H84.04zM84.04 644.73H88.02V648.71H84.04zM87.72 652.09H91.71V656.07H87.72zM87.72 655.77H91.71V659.76H87.72zM91.41 659.46H95.39V663.44H91.41zM91.41 663.14H95.39V667.12H91.41zM91.41 666.82H95.39V670.81H91.41zM95.09 670.51H99.08V674.49H95.09zM95.09 674.19H99.08V678.17H95.09zM98.78 681.56H102.76V683.70H98.78z" fill="#3698d0"/>
<path d="M69.31 578.42H76.97V582.41H69.31zM65.62 582.11H69.61V586.09H65.62zM109.82 582.11H117.49V586.09H109.82zM65.62 585.79H69.61V589.77H65.62zM98.78 585.79H102.76V589.77H98.78zM113.51 589.48H117.49V593.46H113.51zM124.56 593.16H132.23V597.14H124.56zM135.61 596.84H143.28V600.82H135.61zM146.66 600.52H154.33V604.51H146.66zM157.71 604.21H165.38V608.19H157.71zM165.07 607.89H170.90V611.87H165.07zM72.99 611.57H76.97V615.56H72.99zM69.31 622.62H73.29V626.61H69.31zM69.31 626.31H73.29V630.29H69.31zM76.67 626.31H80.66V630.29H76.67zM80.36 637.36H84.34V641.34H80.36zM80.36 641.04H84.34V645.02H80.36zM84.04 648.41H88.02V652.39H84.04zM84.04 652.09H88.02V656.07H84.04zM87.72 659.46H91.71V663.44H87.72zM87.72 663.14H91.71V667.12H87.72zM91.41 670.51H95.39V674.49H91.41zM91.41 674.19H95.39V678.17H91.41zM95.09 677.88H99.08V681.86H95.09zM95.09 681.56H99.08V683.70H95.09z" fill="#329dd0"/>
<path d="M76.67 578.42H84.34V582.41H76.67zM117.19 582.11H121.17V586.09H117.19zM102.46 585.79H106.44V589.77H102.46zM65.62 589.48H69.61V593.46H65.62zM117.19 589.48H124.86V593.46H117.19zM65.62 593.16H69.61V597.14H65.62zM131.93 593.16H139.59V597.14H131.93zM142.97 596.84H154.33V600.82H142.97zM154.03 600.52H165.38V604.51H154.03zM165.07 604.21H170.90V608.19H165.07zM72.99 615.26H76.97V619.24H72.99zM69.31 629.99H73.29V633.97H69.31zM76.67 629.99H80.66V633.97H76.67zM76.67 633.67H80.66V637.66H76.67zM80.36 644.73H84.34V648.71H80.36zM80.36 648.41H84.34V652.39H80.36zM84.04 655.77H88.02V659.76H84.04zM84.04 659.46H88.02V663.44H84.04zM84.04 663.14H88.02V667.12H84.04zM87.72 666.82H91.71V670.81H87.72zM87.72 670.51H91.71V674.49H87.72zM87.72 674.19H91.71V678.17H87.72zM91.41 677.88H95.39V681.86H91.41zM91.41 681.56H95.39V683.70H91.41z" fill="#2da1d0"/>
<path d="M84.04 578.42H95.39V582.41H84.04zM120.88 582.11H124.86V586.09H120.88zM106.14 585.79H110.12V589.77H106.14zM124.56 589.48H135.91V593.46H124.56zM139.29 593.16H150.64V597.14H139.29zM65.62 596.84H69.61V600.82H65.62zM154.03 596.84H165.38V600.82H154.03zM65.62 600.52H69.61V604.51H65.62zM165.07 600.52H170.90V604.51H165.07zM65.62 604.21H69.61V608.19H65.62zM72.99 618.94H76.97V622.92H72.99zM69.31 633.67H73.29V637.66H69.31zM76.67 637.36H80.66V641.34H76.67zM76.67 641.04H80.66V645.02H76.67zM76.67 644.73H80.66V648.71H76.67zM80.36 652.09H84.34V656.07H80.36zM80.36 655.77H84.34V659.76H80.36zM80.36 659.46H84.34V663.44H80.36zM84.04 666.82H88.02V670.81H84.04zM84.04 670.51H88.02V674.49H84.04zM84.04 674.19H88.02V678.17H84.04zM87.72 677.88H91.71V681.86H87.72zM87.72 681.56H91.71V683.70H87.72z" fill="#29a6d0"/>
<path d="M95.09 578.42H102.76V582.41H95.09zM124.56 582.11H132.23V586.09H124.56zM109.82 585.79H117.49V589.77H109.82zM135.61 589.48H143.28V593.46H135.61zM150.34 593.16H161.69V597.14H150.34zM165.07 596.84H170.90V600.82H165.07zM65.62 607.89H69.61V611.87H65.62zM65.62 611.57H69.61V615.56H65.62zM72.99 622.62H76.97V626.61H72.99zM72.99 626.31H76.97V630.29H72.99zM69.31 637.36H73.29V641.34H69.31zM69.31 641.04H73.29V645.02H69.31zM76.67 648.41H80.66V652.39H76.67zM76.67 652.09H80.66V656.07H76.67zM80.36 663.14H84.34V667.12H80.36zM80.36 666.82H84.34V670.81H80.36zM80.36 670.51H84.34V674.49H80.36zM84.04 677.88H88.02V681.86H84.04zM84.04 681.56H88.02V683.70H84.04z" fill="#24aad0"/>
<path d="M102.46 578.42H106.44V582.41H102.46zM131.93 582.11H139.59V586.09H131.93zM117.19 585.79H124.86V589.77H117.19zM142.97 589.48H154.33V593.46H142.97zM161.39 593.16H170.90V597.14H161.39zM65.62 615.26H69.61V619.24H65.62zM72.99 629.99H76.97V633.97H72.99zM72.99 633.67H76.97V637.66H72.99zM69.31 644.73H73.29V648.71H69.31zM69.31 648.41H73.29V652.39H69.31zM76.67 655.77H80.66V659.76H76.67zM76.67 659.46H80.66V663.44H76.67zM76.67 663.14H80.66V667.12H76.67zM80.36 674.19H84.34V678.17H80.36zM80.36 677.88H84.34V681.86H80.36zM80.36 681.56H84.34V683.70H80.36z" fill="#20afd0"/>
<path d="M106.14 578.42H113.81V582.41H106.14zM139.29 582.11H143.28V586.09H139.29zM124.56 585.79H135.91V589.77H124.56zM154.03 589.48H165.38V593.46H154.03zM65.62 618.94H69.61V622.92H65.62zM65.62 622.62H69.61V626.61H65.62zM72.99 637.36H76.97V641.34H72.99zM72.99 641.04H76.97V645.02H72.99zM72.99 644.73H76.97V648.71H72.99zM69.31 652.09H73.29V656.07H69.31zM76.67 666.82H80.66V670.81H76.67zM76.67 670.51H80.66V674.49H76.67zM76.67 674.19H80.66V678.17H76.67z" fill="#22b1c9"/>
<path d="M113.51 578.42H121.17V582.41H113.51zM142.97 582.11H150.64V586.09H142.97zM135.61 585.79H143.28V589.77H135.61zM165.07 589.48H170.90V593.46H165.07zM65.62 626.31H69.61V630.29H65.62zM65.62 629.99H69.61V633.97H65.62zM72.99 648.41H76.97V652.39H72.99zM72.99 652.09H76.97V656.07H72.99zM69.31 655.77H73.29V659.76H69.31zM69.31 659.46H73.29V663.44H69.31zM76.67 677.88H80.66V681.86H76.67zM76.67 681.56H80.66V683.70H76.67z" fill="#25b3c1"/>
<path d="M120.88 578.42H128.54V582.41H120.88zM150.34 582.11H154.33V586.09H150.34zM142.97 585.79H154.33V589.77H142.97zM65.62 633.67H69.61V637.66H65.62zM65.62 637.36H69.61V641.34H65.62zM72.99 655.77H76.97V659.76H72.99zM72.99 659.46H76.97V663.44H72.99zM69.31 663.14H76.97V667.12H69.31z" fill="#28b4b9"/>
<path d="M128.24 578.42H132.23V582.41H128.24zM154.03 582.11H161.69V586.09H154.03zM154.03 585.79H170.90V589.77H154.03zM65.62 641.04H69.61V645.02H65.62zM69.31 666.82H76.97V670.81H69.31zM69.31 670.51H76.97V674.49H69.31zM72.99 674.19H76.97V678.17H72.99zM72.99 677.88H76.97V681.86H72.99zM72.99 681.56H76.97V683.70H72.99z" fill="#2cb6b0"/>
<path d="M131.93 578.42H139.59V582.41H131.93zM161.39 582.11H165.38V586.09H161.39zM65.62 644.73H69.61V648.71H65.62zM65.62 648.41H69.61V652.39H65.62zM69.31 674.19H73.29V678.17H69.31z" fill="#2fb7a8"/>
<path d="M139.29 578.42H146.96V582.41H139.29zM165.07 582.11H170.90V586.09H165.07zM65.62 652.09H69.61V656.07H65.62zM65.62 655.77H69.61V659.76H65.62zM69.31 677.88H73.29V681.86H69.31zM69.31 681.56H73.29V683.70H69.31z" fill="#3cb89e"/>
<path d="M146.66 578.42H150.64V582.41H146.66zM65.62 659.46H69.61V663.44H65.62z" fill="#4aba93"/>
<path d="M150.34 578.42H158.01V582.41H150.34zM65.62 663.14H69.61V667.12H65.62zM65.62 666.82H69.61V670.81H65.62z" fill="#57bb89"/>
<path d="M157.71 578.42H161.69V582.41H157.71zM65.62 670.51H69.61V674.49H65.62z" fill="#64bc7f"/>
<path d="M65.62 574.74H80.66V578.72H65.62zM61.94 578.42H65.92V582.41H61.94zM161.39 578.42H169.06V582.41H161.39zM61.94 582.11H65.92V586.09H61.94zM61.94 585.79H65.92V589.77H61.94zM61.94 589.48H65.92V593.46H61.94zM65.62 674.19H69.61V678.17H65.62zM65.62 677.88H69.61V681.86H65.62z" fill="#72be74"/>
<path d="M80.36 574.74H91.71V578.72H80.36zM168.76 578.42H170.90V582.41H168.76zM61.94 593.16H65.92V597.14H61.94zM61.94 596.84H65.92V600.82H61.94zM61.94 600.52H65.92V604.51H61.94zM65.62 681.56H69.61V683.70H65.62z" fill="#7fbf6a"/>
<path d="M91.41 574.74H99.08V578.72H91.41zM61.94 604.21H65.92V608.19H61.94zM61.94 607.89H65.92V611.87H61.94z" fill="#89be64"/>
<path d="M98.78 574.74H106.44V578.72H98.78zM61.94 611.57H65.92V615.56H61.94zM61.94 615.26H65.92V619.24H61.94z" fill="#94bd5e"/>
<path d="M106.14 574.74H113.81V578.72H106.14zM61.94 618.94H65.92V622.92H61.94zM61.94 622.62H65.92V626.61H61.94z" fill="#9ebc58"/>
<path d="M113.51 574.74H117.49V578.72H113.51zM61.94 626.31H65.92V630.29H61.94z" fill="#a8bb53"/>
<path d="M117.19 574.74H124.86V578.72H117.19zM61.94 629.99H65.92V633.97H61.94zM61.94 633.67H65.92V637.66H61.94z" fill="#b2ba4d"/>
<path d="M124.56 574.74H132.23V578.72H124.56zM61.94 637.36H65.92V641.34H61.94zM61.94 641.04H65.92V645.02H61.94z" fill="#bdb947"/>
<path d="M131.93 574.74H135.91V578.72H131.93zM61.94 644.73H65.92V648.71H61.94z" fill="#c7b841"/>
<path d="M135.61 574.74H139.59V578.72H135.61zM61.94 648.41H65.92V652.39H61.94z" fill="#cfb63f"/>
<path d="M139.29 574.74H146.96V578.72H139.29zM61.94 652.09H65.92V656.07H61.94zM61.94 655.77H65.92V659.76H61.94z" fill="#d6b43e"/>
<path d="M146.66 574.74H150.64V578.72H146.66zM61.94 659.46H65.92V663.44H61.94z" fill="#deb13d"/>
<path d="M150.34 574.74H154.33V578.72H150.34zM61.94 663.14H65.92V667.12H61.94z" fill="#e5ae3c"/>
<path d="M154.03 574.74H161.69V578.72H154.03zM61.94 666.82H65.92V670.81H61.94zM61.94 670.51H65.92V674.49H61.94z" fill="#ecac3b"/>
<path d="M161.39 574.74H165.38V578.72H161.39zM61.94 674.19H65.92V678.17H61.94z" fill="#f4aa3a"/>
<path d="M165.07 574.74H169.06V578.72H165.07zM61.94 677.88H65.92V681.86H61.94z" fill="#f6ae38"/>
<path d="M168.76 574.74H170.90V578.72H168.76zM61.94 681.56H65.92V683.70H61.94z" fill="#f6b536"/>
<path d="M61.94 572.90H170.90V575.04H61.94zM60.10 574.74H62.24V578.72H60.10zM60.10 578.42H62.24V582.41H60.10zM60.10 582.11H62.24V586.09H60.10zM60.10 585.79H62.24V589.77H60.10zM60.10 589.48H62.24V593.46H60.10zM60.10 593.16H62.24V597.14H60.10zM60.10 596.84H62.24V600.82H60.10zM60.10 600.52H62.24V604.51H60.10zM60.10 604.21H62.24V608.19H60.10zM60.10 607.89H62.24V611.87H60.10zM60.10 611.57H62.24V615.56H60.10zM60.10 615.26H62.24V619.24H60.10zM60.10 618.94H62.24V622.92H60.10zM60.10 622.62H62.24V626.61H60.10zM60.10 626.31H62.24V630.29H60.10zM60.10 629.99H62.24V633.97H60.10zM60.10 633.67H62.24V637.66H60.10zM60.10 637.36H62.24V641.34H60.10zM60.10 641.04H62.24V645.02H60.10zM60.10 644.73H62.24V648.71H60.10zM60.10 648.41H62.24V652.39H60.10zM60.10 652.09H62.24V656.07H60.10zM60.10 655.77H62.24V659.76H60.10zM60.10 659.46H62.24V663.44H60.10zM60.10 663.14H62.24V667.12H60.10zM60.10 666.82H62.24V670.81H60.10zM60.10 670.51H62.24V674.49H60.10zM60.10 674.19H62.24V678.17H60.10zM60.10 677.88H62.24V681.86H60.10zM60.10 681.56H62.24V683.70H60.10z" fill="#f6d82c"/>
</g>
<rect x="60.1" y="572.9" width="110.5" height="110.5" fill="none" stroke="#555" stroke-width="0.7"/>
<text x="57.6" y="576.7" font-size="10.3" text-anchor="end" fill="#4d4d4d">0</text>
<text x="60.1" y="695.6" font-size="10.3" text-anchor="middle" fill="#4d4d4d">0</text>
<text x="57.6" y="613.5" font-size="10.3" text-anchor="end" fill="#4d4d4d">30</text>
<text x="96.9" y="695.6" font-size="10.3" text-anchor="middle" fill="#4d4d4d">30</text>
<text x="57.6" y="650.4" font-size="10.3" text-anchor="end" fill="#4d4d4d">60</text>
<text x="133.8" y="695.6" font-size="10.3" text-anchor="middle" fill="#4d4d4d">60</text>
<text x="57.6" y="687.2" font-size="10.3" text-anchor="end" fill="#4d4d4d">90</text>
<text x="170.6" y="695.6" font-size="10.3" text-anchor="middle" fill="#4d4d4d">90</text>
<text x="123" y="708.8" font-size="10.7" text-anchor="middle" fill="#111">Difficulty (&lt;||θ<tspan font-size="6" dy="2">L</tspan><tspan dy="-2">|-|θ</tspan><tspan font-size="6" dy="2">R</tspan><tspan dy="-2">||&gt;)</tspan></text>
<text x="40.8" y="624" font-size="10.7" text-anchor="middle" fill="#111" transform="rotate(-90 40.8 624)">Difficulty (&lt;||θ<tspan font-size="6" dy="2">L</tspan><tspan dy="-2">|-|θ</tspan><tspan font-size="6" dy="2">R</tspan><tspan dy="-2">||&gt;)</tspan></text>
<linearGradient id="cbh" x1="0" y1="0" x2="0" y2="1"><stop offset="0.00" stop-color="#f5e02a"/><stop offset="0.10" stop-color="#f8c830"/><stop offset="0.18" stop-color="#f5a93a"/><stop offset="0.28" stop-color="#c9b840"/><stop offset="0.40" stop-color="#7fbf6a"/><stop offset="0.50" stop-color="#2fb7a8"/><stop offset="0.58" stop-color="#1fb0d0"/><stop offset="0.70" stop-color="#3f8fd0"/><stop offset="0.80" stop-color="#4a6fc0"/><stop offset="0.90" stop-color="#4f55b0"/><stop offset="1.00" stop-color="#4d48a0"/></linearGradient>
<rect x="182.1" y="593.5" width="7.1" height="68" fill="url(#cbh)" stroke="#777" stroke-width="0.6"/>
<text x="193" y="665.7" font-size="10.3" text-anchor="start" fill="#4d4d4d">0</text>
<text x="193" y="643.0" font-size="10.3" text-anchor="start" fill="#4d4d4d">10</text>
<text x="193" y="620.4" font-size="10.3" text-anchor="start" fill="#4d4d4d">20</text>
<text x="193" y="597.7" font-size="10.3" text-anchor="start" fill="#4d4d4d">30</text>
<text x="220" y="632" font-size="10.3" text-anchor="middle" fill="#666" transform="rotate(-90 220 632)">Angle between choice axes (°)</text>
<text x="250.2" y="562.4" font-size="12" text-anchor="start" fill="#000" font-weight="bold">i</text>
<clipPath id="cli"><rect x="291" y="573.4" width="110.6" height="110.6"/></clipPath><g clip-path="url(#cli)" shape-rendering="crispEdges">
<rect x="285.47" y="567.87" width="11.36" height="11.36" fill="#4d48a0"/>
<rect x="296.53" y="567.87" width="11.36" height="11.36" fill="#24aad0"/>
<rect x="307.59" y="567.87" width="11.36" height="11.36" fill="#2fb7a8"/>
<rect x="318.65" y="567.87" width="11.36" height="11.36" fill="#4aba93"/>
<rect x="329.71" y="567.87" width="11.36" height="11.36" fill="#7fbf6a"/>
<rect x="340.77" y="567.87" width="11.36" height="11.36" fill="#a8bb53"/>
<rect x="351.83" y="567.87" width="11.36" height="11.36" fill="#deb13d"/>
<rect x="362.89" y="567.87" width="11.36" height="11.36" fill="#f6ae38"/>
<rect x="373.95" y="567.87" width="11.36" height="11.36" fill="#f7bb34"/>
<rect x="385.01" y="567.87" width="11.36" height="11.36" fill="#f8c830"/>
<rect x="396.07" y="567.87" width="11.36" height="11.36" fill="#f7d02e"/>
<rect x="285.47" y="578.93" width="11.36" height="11.36" fill="#24aad0"/>
<rect x="296.53" y="578.93" width="11.36" height="11.36" fill="#4d48a0"/>
<rect x="307.59" y="578.93" width="11.36" height="11.36" fill="#24aad0"/>
<rect x="318.65" y="578.93" width="11.36" height="11.36" fill="#28b4b9"/>
<rect x="329.71" y="578.93" width="11.36" height="11.36" fill="#4aba93"/>
<rect x="340.77" y="578.93" width="11.36" height="11.36" fill="#64bc7f"/>
<rect x="351.83" y="578.93" width="11.36" height="11.36" fill="#bdb947"/>
<rect x="362.89" y="578.93" width="11.36" height="11.36" fill="#ecac3b"/>
<rect x="373.95" y="578.93" width="11.36" height="11.36" fill="#f6ae38"/>
<rect x="385.01" y="578.93" width="11.36" height="11.36" fill="#f7bb34"/>
<rect x="396.07" y="578.93" width="11.36" height="11.36" fill="#f8c830"/>
<rect x="285.47" y="589.99" width="11.36" height="11.36" fill="#2fb7a8"/>
<rect x="296.53" y="589.99" width="11.36" height="11.36" fill="#24aad0"/>
<rect x="307.59" y="589.99" width="11.36" height="11.36" fill="#4d48a0"/>
<rect x="318.65" y="589.99" width="11.36" height="11.36" fill="#2da1d0"/>
<rect x="329.71" y="589.99" width="11.36" height="11.36" fill="#22b1c9"/>
<rect x="340.77" y="589.99" width="11.36" height="11.36" fill="#28b4b9"/>
<rect x="351.83" y="589.99" width="11.36" height="11.36" fill="#64bc7f"/>
<rect x="362.89" y="589.99" width="11.36" height="11.36" fill="#94bd5e"/>
<rect x="373.95" y="589.99" width="11.36" height="11.36" fill="#a8bb53"/>
<rect x="385.01" y="589.99" width="11.36" height="11.36" fill="#cfb63f"/>
<rect x="396.07" y="589.99" width="11.36" height="11.36" fill="#deb13d"/>
<rect x="285.47" y="601.05" width="11.36" height="11.36" fill="#64bc7f"/>
<rect x="296.53" y="601.05" width="11.36" height="11.36" fill="#28b4b9"/>
<rect x="307.59" y="601.05" width="11.36" height="11.36" fill="#2da1d0"/>
<rect x="318.65" y="601.05" width="11.36" height="11.36" fill="#4d48a0"/>
<rect x="329.71" y="601.05" width="11.36" height="11.36" fill="#2da1d0"/>
<rect x="340.77" y="601.05" width="11.36" height="11.36" fill="#24aad0"/>
<rect x="351.83" y="601.05" width="11.36" height="11.36" fill="#28b4b9"/>
<rect x="362.89" y="601.05" width="11.36" height="11.36" fill="#4aba93"/>
<rect x="373.95" y="601.05" width="11.36" height="11.36" fill="#64bc7f"/>
<rect x="385.01" y="601.05" width="11.36" height="11.36" fill="#7fbf6a"/>
<rect x="396.07" y="601.05" width="11.36" height="11.36" fill="#94bd5e"/>
<rect x="285.47" y="612.11" width="11.36" height="11.36" fill="#94bd5e"/>
<rect x="296.53" y="612.11" width="11.36" height="11.36" fill="#4aba93"/>
<rect x="307.59" y="612.11" width="11.36" height="11.36" fill="#22b1c9"/>
<rect x="318.65" y="612.11" width="11.36" height="11.36" fill="#2da1d0"/>
<rect x="329.71" y="612.11" width="11.36" height="11.36" fill="#4d48a0"/>
<rect x="340.77" y="612.11" width="11.36" height="11.36" fill="#3f8fd0"/>
<rect x="351.83" y="612.11" width="11.36" height="11.36" fill="#24aad0"/>
<rect x="362.89" y="612.11" width="11.36" height="11.36" fill="#22b1c9"/>
<rect x="373.95" y="612.11" width="11.36" height="11.36" fill="#28b4b9"/>
<rect x="385.01" y="612.11" width="11.36" height="11.36" fill="#2fb7a8"/>
<rect x="396.07" y="612.11" width="11.36" height="11.36" fill="#4aba93"/>
<rect x="285.47" y="623.17" width="11.36" height="11.36" fill="#bdb947"/>
<rect x="296.53" y="623.17" width="11.36" height="11.36" fill="#7fbf6a"/>
<rect x="307.59" y="623.17" width="11.36" height="11.36" fill="#28b4b9"/>
<rect x="318.65" y="623.17" width="11.36" height="11.36" fill="#24aad0"/>
<rect x="329.71" y="623.17" width="11.36" height="11.36" fill="#3f8fd0"/>
<rect x="340.77" y="623.17" width="11.36" height="11.36" fill="#4d48a0"/>
<rect x="351.83" y="623.17" width="11.36" height="11.36" fill="#3f8fd0"/>
<rect x="362.89" y="623.17" width="11.36" height="11.36" fill="#2da1d0"/>
<rect x="373.95" y="623.17" width="11.36" height="11.36" fill="#24aad0"/>
<rect x="385.01" y="623.17" width="11.36" height="11.36" fill="#20afd0"/>
<rect x="396.07" y="623.17" width="11.36" height="11.36" fill="#22b1c9"/>
<rect x="285.47" y="634.23" width="11.36" height="11.36" fill="#f6ae38"/>
<rect x="296.53" y="634.23" width="11.36" height="11.36" fill="#cfb63f"/>
<rect x="307.59" y="634.23" width="11.36" height="11.36" fill="#64bc7f"/>
<rect x="318.65" y="634.23" width="11.36" height="11.36" fill="#28b4b9"/>
<rect x="329.71" y="634.23" width="11.36" height="11.36" fill="#2da1d0"/>
<rect x="340.77" y="634.23" width="11.36" height="11.36" fill="#4384cb"/>
<rect x="351.83" y="634.23" width="11.36" height="11.36" fill="#4d48a0"/>
<rect x="362.89" y="634.23" width="11.36" height="11.36" fill="#467ac5"/>
<rect x="373.95" y="634.23" width="11.36" height="11.36" fill="#4384cb"/>
<rect x="385.01" y="634.23" width="11.36" height="11.36" fill="#3f8fd0"/>
<rect x="396.07" y="634.23" width="11.36" height="11.36" fill="#3698d0"/>
<rect x="285.47" y="645.29" width="11.36" height="11.36" fill="#f8c830"/>
<rect x="296.53" y="645.29" width="11.36" height="11.36" fill="#f6ae38"/>
<rect x="307.59" y="645.29" width="11.36" height="11.36" fill="#a8bb53"/>
<rect x="318.65" y="645.29" width="11.36" height="11.36" fill="#4aba93"/>
<rect x="329.71" y="645.29" width="11.36" height="11.36" fill="#22b1c9"/>
<rect x="340.77" y="645.29" width="11.36" height="11.36" fill="#2da1d0"/>
<rect x="351.83" y="645.29" width="11.36" height="11.36" fill="#467ac5"/>
<rect x="362.89" y="645.29" width="11.36" height="11.36" fill="#4d48a0"/>
<rect x="373.95" y="645.29" width="11.36" height="11.36" fill="#4a6fc0"/>
<rect x="385.01" y="645.29" width="11.36" height="11.36" fill="#467ac5"/>
<rect x="396.07" y="645.29" width="11.36" height="11.36" fill="#4384cb"/>
<rect x="285.47" y="656.35" width="11.36" height="11.36" fill="#f7d02e"/>
<rect x="296.53" y="656.35" width="11.36" height="11.36" fill="#f7bb34"/>
<rect x="307.59" y="656.35" width="11.36" height="11.36" fill="#bdb947"/>
<rect x="318.65" y="656.35" width="11.36" height="11.36" fill="#64bc7f"/>
<rect x="329.71" y="656.35" width="11.36" height="11.36" fill="#28b4b9"/>
<rect x="340.77" y="656.35" width="11.36" height="11.36" fill="#24aad0"/>
<rect x="351.83" y="656.35" width="11.36" height="11.36" fill="#4384cb"/>
<rect x="362.89" y="656.35" width="11.36" height="11.36" fill="#4a6fc0"/>
<rect x="373.95" y="656.35" width="11.36" height="11.36" fill="#4d48a0"/>
<rect x="385.01" y="656.35" width="11.36" height="11.36" fill="#4a6fc0"/>
<rect x="396.07" y="656.35" width="11.36" height="11.36" fill="#467ac5"/>
<rect x="285.47" y="667.41" width="11.36" height="11.36" fill="#f6d82c"/>
<rect x="296.53" y="667.41" width="11.36" height="11.36" fill="#f8c830"/>
<rect x="307.59" y="667.41" width="11.36" height="11.36" fill="#cfb63f"/>
<rect x="318.65" y="667.41" width="11.36" height="11.36" fill="#7fbf6a"/>
<rect x="329.71" y="667.41" width="11.36" height="11.36" fill="#2fb7a8"/>
<rect x="340.77" y="667.41" width="11.36" height="11.36" fill="#22b1c9"/>
<rect x="351.83" y="667.41" width="11.36" height="11.36" fill="#3f8fd0"/>
<rect x="362.89" y="667.41" width="11.36" height="11.36" fill="#467ac5"/>
<rect x="373.95" y="667.41" width="11.36" height="11.36" fill="#4a6fc0"/>
<rect x="385.01" y="667.41" width="11.36" height="11.36" fill="#4d48a0"/>
<rect x="396.07" y="667.41" width="11.36" height="11.36" fill="#4c66bb"/>
<rect x="285.47" y="678.47" width="11.36" height="11.36" fill="#f7d02e"/>
<rect x="296.53" y="678.47" width="11.36" height="11.36" fill="#f8c830"/>
<rect x="307.59" y="678.47" width="11.36" height="11.36" fill="#deb13d"/>
<rect x="318.65" y="678.47" width="11.36" height="11.36" fill="#94bd5e"/>
<rect x="329.71" y="678.47" width="11.36" height="11.36" fill="#4aba93"/>
<rect x="340.77" y="678.47" width="11.36" height="11.36" fill="#22b1c9"/>
<rect x="351.83" y="678.47" width="11.36" height="11.36" fill="#3698d0"/>
<rect x="362.89" y="678.47" width="11.36" height="11.36" fill="#4384cb"/>
<rect x="373.95" y="678.47" width="11.36" height="11.36" fill="#467ac5"/>
<rect x="385.01" y="678.47" width="11.36" height="11.36" fill="#4c66bb"/>
<rect x="396.07" y="678.47" width="11.36" height="11.36" fill="#4d48a0"/>
</g>
<rect x="291" y="573.4" width="110.6" height="110.6" fill="none" stroke="#666" stroke-width="0.7"/>
<text x="287.8" y="577.2" font-size="10.3" text-anchor="end" fill="#4d4d4d">0</text>
<text x="291.6" y="695.4" font-size="10.3" text-anchor="middle" fill="#4d4d4d">0</text>
<text x="287.8" y="604.8" font-size="10.3" text-anchor="end" fill="#4d4d4d">0.25</text>
<text x="319.2" y="695.4" font-size="10.3" text-anchor="middle" fill="#4d4d4d">0.25</text>
<text x="287.8" y="632.5" font-size="10.3" text-anchor="end" fill="#4d4d4d">0.5</text>
<text x="346.9" y="695.4" font-size="10.3" text-anchor="middle" fill="#4d4d4d">0.5</text>
<text x="287.8" y="660.1" font-size="10.3" text-anchor="end" fill="#4d4d4d">0.75</text>
<text x="374.6" y="695.4" font-size="10.3" text-anchor="middle" fill="#4d4d4d">0.75</text>
<text x="287.8" y="687.8" font-size="10.3" text-anchor="end" fill="#4d4d4d">1</text>
<text x="402.2" y="695.4" font-size="10.3" text-anchor="middle" fill="#4d4d4d">1</text>
<text x="345.4" y="709.4" font-size="10.3" text-anchor="middle" fill="#444">Attention level</text>
<text x="264.6" y="629" font-size="10.3" text-anchor="middle" fill="#444" transform="rotate(-90 264.6 629)">Attention level</text>
<linearGradient id="cbi" x1="0" y1="0" x2="0" y2="1"><stop offset="0.00" stop-color="#f5e02a"/><stop offset="0.10" stop-color="#f8c830"/><stop offset="0.18" stop-color="#f5a93a"/><stop offset="0.28" stop-color="#c9b840"/><stop offset="0.40" stop-color="#7fbf6a"/><stop offset="0.50" stop-color="#2fb7a8"/><stop offset="0.58" stop-color="#1fb0d0"/><stop offset="0.70" stop-color="#3f8fd0"/><stop offset="0.80" stop-color="#4a6fc0"/><stop offset="0.90" stop-color="#4f55b0"/><stop offset="1.00" stop-color="#4d48a0"/></linearGradient>
<rect x="411.5" y="594.1" width="7.1" height="68.6" fill="url(#cbi)" stroke="#777" stroke-width="0.6"/>
<text x="423" y="666.9" font-size="10.3" text-anchor="start" fill="#4d4d4d">0</text>
<text x="423" y="644.0" font-size="10.3" text-anchor="start" fill="#4d4d4d">10</text>
<text x="423" y="621.2" font-size="10.3" text-anchor="start" fill="#4d4d4d">20</text>
<text x="423" y="598.3" font-size="10.3" text-anchor="start" fill="#4d4d4d">30</text>
<text x="449.2" y="633" font-size="10.3" text-anchor="middle" fill="#666" transform="rotate(-90 449.2 633)">Angle between choice axes (°)</text>
<text x="476" y="562.4" font-size="12" text-anchor="start" fill="#000" font-weight="bold">j</text>
<line x1="512.9" y1="572.9" x2="512.9" y2="681.9" stroke="#3a3a3a" stroke-width="1.4"/>
<line x1="510" y1="680.3" x2="512.8" y2="680.3" stroke="#3a3a3a" stroke-width="0.9"/>
<text x="508.3" y="684.0" font-size="10.3" text-anchor="end" fill="#222">0</text>
<line x1="510" y1="659.5" x2="512.8" y2="659.5" stroke="#3a3a3a" stroke-width="0.9"/>
<text x="508.3" y="663.2" font-size="10.3" text-anchor="end" fill="#222">0.2</text>
<line x1="510" y1="638.7" x2="512.8" y2="638.7" stroke="#3a3a3a" stroke-width="0.9"/>
<text x="508.3" y="642.4" font-size="10.3" text-anchor="end" fill="#222">0.4</text>
<line x1="510" y1="617.9" x2="512.8" y2="617.9" stroke="#3a3a3a" stroke-width="0.9"/>
<text x="508.3" y="621.6" font-size="10.3" text-anchor="end" fill="#222">0.6</text>
<line x1="510" y1="597.1" x2="512.8" y2="597.1" stroke="#3a3a3a" stroke-width="0.9"/>
<text x="508.3" y="600.8" font-size="10.3" text-anchor="end" fill="#222">0.8</text>
<line x1="510" y1="576.3" x2="512.8" y2="576.3" stroke="#3a3a3a" stroke-width="0.9"/>
<text x="508.3" y="580.0" font-size="10.3" text-anchor="end" fill="#222">1</text>
<line x1="518.3" y1="682.6" x2="650.2" y2="682.6" stroke="#3a3a3a" stroke-width="1.4"/>
<line x1="521.6" y1="682.6" x2="521.6" y2="685.6" stroke="#3a3a3a" stroke-width="0.9"/>
<text x="521.6" y="696.2" font-size="10.3" text-anchor="middle" fill="#222">-90</text>
<line x1="542.6" y1="682.6" x2="542.6" y2="685.6" stroke="#3a3a3a" stroke-width="0.9"/>
<text x="542.6" y="696.2" font-size="10.3" text-anchor="middle" fill="#222">-60</text>
<line x1="563.5" y1="682.6" x2="563.5" y2="685.6" stroke="#3a3a3a" stroke-width="0.9"/>
<text x="563.5" y="696.2" font-size="10.3" text-anchor="middle" fill="#222">-30</text>
<line x1="584.5" y1="682.6" x2="584.5" y2="685.6" stroke="#3a3a3a" stroke-width="0.9"/>
<text x="584.5" y="696.2" font-size="10.3" text-anchor="middle" fill="#222">0</text>
<line x1="605.5" y1="682.6" x2="605.5" y2="685.6" stroke="#3a3a3a" stroke-width="0.9"/>
<text x="605.5" y="696.2" font-size="10.3" text-anchor="middle" fill="#222">30</text>
<line x1="626.4" y1="682.6" x2="626.4" y2="685.6" stroke="#3a3a3a" stroke-width="0.9"/>
<text x="626.4" y="696.2" font-size="10.3" text-anchor="middle" fill="#222">60</text>
<line x1="647.4" y1="682.6" x2="647.4" y2="685.6" stroke="#3a3a3a" stroke-width="0.9"/>
<text x="647.4" y="696.2" font-size="10.3" text-anchor="middle" fill="#222">90</text>
<text x="583.8" y="708.4" font-size="10.3" text-anchor="middle" fill="#111">Angle difference &lt;|θ<tspan font-size="6" dy="2">L</tspan><tspan dy="-2">|-|θ</tspan><tspan font-size="6" dy="2">R</tspan><tspan dy="-2">|&gt;</tspan></text>
<text x="490" y="628.3" font-size="10.3" text-anchor="middle" fill="#111" transform="rotate(-90 490 628.3)">Prob of choosing right</text>
<path d="M521.6 659.6L523.7 659.0L525.8 658.4L527.9 657.7L530.0 657.0L532.1 656.3L534.2 655.5L536.3 654.7L538.4 653.9L540.5 653.0L542.6 652.1L544.7 651.2L546.8 650.3L548.9 649.3L551.0 648.2L553.1 647.2L555.2 646.1L557.3 644.9L559.4 643.8L561.4 642.6L563.5 641.4L565.6 640.2L567.7 638.9L569.8 637.6L571.9 636.3L574.0 635.0L576.1 633.7L578.2 632.4L580.3 631.0L582.4 629.7L584.5 628.3L586.6 626.9L588.7 625.6L590.8 624.2L592.9 622.9L595.0 621.6L597.1 620.3L599.2 619.0L601.3 617.7L603.4 616.4L605.5 615.2L607.6 614.0L609.6 612.8L611.7 611.7L613.8 610.5L615.9 609.4L618.0 608.4L620.1 607.3L622.2 606.3L624.3 605.4L626.4 604.5L628.5 603.6L630.6 602.7L632.7 601.9L634.8 601.1L636.9 600.3L639.0 599.6L641.1 598.9L643.2 598.2L645.3 597.6L647.4 597.0" stroke="#4d48a0" stroke-width="0.6" fill="none"/>
<path d="M521.6 660.5L523.7 659.9L525.8 659.3L527.9 658.6L530.0 657.9L532.1 657.2L534.2 656.5L536.3 655.7L538.4 654.9L540.5 654.0L542.6 653.1L544.7 652.1L546.8 651.2L548.9 650.2L551.0 649.1L553.1 648.0L555.2 646.9L557.3 645.7L559.4 644.5L561.4 643.3L563.5 642.0L565.6 640.8L567.7 639.4L569.8 638.1L571.9 636.7L574.0 635.4L576.1 634.0L578.2 632.6L580.3 631.2L582.4 629.7L584.5 628.3L586.6 626.9L588.7 625.4L590.8 624.0L592.9 622.6L595.0 621.2L597.1 619.9L599.2 618.5L601.3 617.2L603.4 615.8L605.5 614.6L607.6 613.3L609.6 612.1L611.7 610.9L613.8 609.7L615.9 608.6L618.0 607.5L620.1 606.4L622.2 605.4L624.3 604.5L626.4 603.5L628.5 602.6L630.6 601.7L632.7 600.9L634.8 600.1L636.9 599.4L639.0 598.7L641.1 598.0L643.2 597.3L645.3 596.7L647.4 596.1" stroke="#4e4fa8" stroke-width="0.6" fill="none"/>
<path d="M521.6 661.2L523.7 660.7L525.8 660.0L527.9 659.4L530.0 658.7L532.1 658.0L534.2 657.3L536.3 656.5L538.4 655.7L540.5 654.8L542.6 653.9L544.7 652.9L546.8 652.0L548.9 650.9L551.0 649.8L553.1 648.7L555.2 647.6L557.3 646.4L559.4 645.2L561.4 643.9L563.5 642.6L565.6 641.3L567.7 639.9L569.8 638.5L571.9 637.1L574.0 635.7L576.1 634.2L578.2 632.8L580.3 631.3L582.4 629.8L584.5 628.3L586.6 626.8L588.7 625.3L590.8 623.8L592.9 622.4L595.0 620.9L597.1 619.5L599.2 618.1L601.3 616.7L603.4 615.3L605.5 614.0L607.6 612.7L609.6 611.4L611.7 610.2L613.8 609.0L615.9 607.9L618.0 606.8L620.1 605.7L622.2 604.6L624.3 603.7L626.4 602.7L628.5 601.8L630.6 600.9L632.7 600.1L634.8 599.3L636.9 598.6L639.0 597.9L641.1 597.2L643.2 596.6L645.3 595.9L647.4 595.4" stroke="#4f56b1" stroke-width="0.6" fill="none"/>
<path d="M521.6 661.9L523.7 661.4L525.8 660.8L527.9 660.1L530.0 659.5L532.1 658.8L534.2 658.0L536.3 657.3L538.4 656.4L540.5 655.6L542.6 654.7L544.7 653.7L546.8 652.7L548.9 651.7L551.0 650.6L553.1 649.5L555.2 648.3L557.3 647.1L559.4 645.8L561.4 644.5L563.5 643.2L565.6 641.8L567.7 640.4L569.8 638.9L571.9 637.5L574.0 636.0L576.1 634.5L578.2 632.9L580.3 631.4L582.4 629.9L584.5 628.3L586.6 626.7L588.7 625.2L590.8 623.7L592.9 622.1L595.0 620.6L597.1 619.1L599.2 617.7L601.3 616.2L603.4 614.8L605.5 613.4L607.6 612.1L609.6 610.8L611.7 609.5L613.8 608.3L615.9 607.1L618.0 606.0L620.1 604.9L622.2 603.9L624.3 602.9L626.4 601.9L628.5 601.0L630.6 600.2L632.7 599.3L634.8 598.6L636.9 597.8L639.0 597.1L641.1 596.5L643.2 595.8L645.3 595.2L647.4 594.7" stroke="#4c64b9" stroke-width="0.6" fill="none"/>
<path d="M521.6 662.6L523.7 662.0L525.8 661.5L527.9 660.9L530.0 660.2L532.1 659.5L534.2 658.8L536.3 658.0L538.4 657.2L540.5 656.3L542.6 655.4L544.7 654.5L546.8 653.5L548.9 652.4L551.0 651.3L553.1 650.2L555.2 649.0L557.3 647.7L559.4 646.4L561.4 645.1L563.5 643.7L565.6 642.3L567.7 640.9L569.8 639.4L571.9 637.9L574.0 636.3L576.1 634.7L578.2 633.1L580.3 631.5L582.4 629.9L584.5 628.3L586.6 626.7L588.7 625.1L590.8 623.5L592.9 621.9L595.0 620.3L597.1 618.7L599.2 617.2L601.3 615.7L603.4 614.3L605.5 612.9L607.6 611.5L609.6 610.2L611.7 608.9L613.8 607.6L615.9 606.4L618.0 605.3L620.1 604.2L622.2 603.1L624.3 602.1L626.4 601.2L628.5 600.3L630.6 599.4L632.7 598.6L634.8 597.8L636.9 597.1L639.0 596.4L641.1 595.7L643.2 595.1L645.3 594.6L647.4 594.0" stroke="#4972c2" stroke-width="0.6" fill="none"/>
<path d="M521.6 663.2L523.7 662.7L525.8 662.1L527.9 661.5L530.0 660.9L532.1 660.2L534.2 659.5L536.3 658.8L538.4 658.0L540.5 657.1L542.6 656.2L544.7 655.3L546.8 654.2L548.9 653.2L551.0 652.1L553.1 650.9L555.2 649.7L557.3 648.4L559.4 647.1L561.4 645.7L563.5 644.3L565.6 642.9L567.7 641.4L569.8 639.8L571.9 638.2L574.0 636.6L576.1 635.0L578.2 633.3L580.3 631.7L582.4 630.0L584.5 628.3L586.6 626.6L588.7 624.9L590.8 623.3L592.9 621.6L595.0 620.0L597.1 618.4L599.2 616.8L601.3 615.2L603.4 613.7L605.5 612.3L607.6 610.9L609.6 609.5L611.7 608.2L613.8 606.9L615.9 605.7L618.0 604.5L620.1 603.4L622.2 602.4L624.3 601.3L626.4 600.4L628.5 599.5L630.6 598.6L632.7 597.8L634.8 597.1L636.9 596.4L639.0 595.7L641.1 595.1L643.2 594.5L645.3 593.9L647.4 593.4" stroke="#4383ca" stroke-width="0.6" fill="none"/>
<path d="M521.6 663.8L523.7 663.3L525.8 662.8L527.9 662.2L530.0 661.6L532.1 661.0L534.2 660.3L536.3 659.5L538.4 658.7L540.5 657.9L542.6 657.0L544.7 656.0L546.8 655.0L548.9 654.0L551.0 652.8L553.1 651.7L555.2 650.4L557.3 649.1L559.4 647.8L561.4 646.4L563.5 644.9L565.6 643.4L567.7 641.9L569.8 640.3L571.9 638.7L574.0 637.0L576.1 635.3L578.2 633.6L580.3 631.8L582.4 630.1L584.5 628.3L586.6 626.5L588.7 624.8L590.8 623.0L592.9 621.3L595.0 619.6L597.1 617.9L599.2 616.3L601.3 614.7L603.4 613.2L605.5 611.7L607.6 610.2L609.6 608.8L611.7 607.5L613.8 606.2L615.9 604.9L618.0 603.8L620.1 602.6L622.2 601.6L624.3 600.6L626.4 599.6L628.5 598.7L630.6 597.9L632.7 597.1L634.8 596.3L636.9 595.6L639.0 595.0L641.1 594.4L643.2 593.8L645.3 593.3L647.4 592.8" stroke="#3b93d0" stroke-width="0.6" fill="none"/>
<path d="M521.6 664.4L523.7 664.0L525.8 663.4L527.9 662.9L530.0 662.3L532.1 661.7L534.2 661.0L536.3 660.3L538.4 659.5L540.5 658.7L542.6 657.8L544.7 656.8L546.8 655.8L548.9 654.8L551.0 653.6L553.1 652.4L555.2 651.2L557.3 649.9L559.4 648.5L561.4 647.1L563.5 645.6L565.6 644.0L567.7 642.4L569.8 640.8L571.9 639.1L574.0 637.3L576.1 635.6L578.2 633.8L580.3 632.0L582.4 630.1L584.5 628.3L586.6 626.5L588.7 624.6L590.8 622.8L592.9 621.0L595.0 619.3L597.1 617.5L599.2 615.8L601.3 614.2L603.4 612.6L605.5 611.0L607.6 609.5L609.6 608.1L611.7 606.7L613.8 605.4L615.9 604.2L618.0 603.0L620.1 601.8L622.2 600.8L624.3 599.8L626.4 598.8L628.5 597.9L630.6 597.1L632.7 596.3L634.8 595.6L636.9 594.9L639.0 594.3L641.1 593.7L643.2 593.2L645.3 592.6L647.4 592.2" stroke="#2da2d0" stroke-width="0.6" fill="none"/>
<path d="M521.6 665.0L523.7 664.6L525.8 664.1L527.9 663.6L530.0 663.0L532.1 662.4L534.2 661.7L536.3 661.0L538.4 660.3L540.5 659.4L542.6 658.6L544.7 657.6L546.8 656.6L548.9 655.6L551.0 654.4L553.1 653.2L555.2 652.0L557.3 650.7L559.4 649.3L561.4 647.8L563.5 646.3L565.6 644.7L567.7 643.0L569.8 641.3L571.9 639.5L574.0 637.7L576.1 635.9L578.2 634.0L580.3 632.1L582.4 630.2L584.5 628.3L586.6 626.4L588.7 624.5L590.8 622.6L592.9 620.7L595.0 618.9L597.1 617.1L599.2 615.3L601.3 613.6L603.4 611.9L605.5 610.3L607.6 608.8L609.6 607.3L611.7 605.9L613.8 604.6L615.9 603.4L618.0 602.2L620.1 601.0L622.2 600.0L624.3 599.0L626.4 598.0L628.5 597.2L630.6 596.3L632.7 595.6L634.8 594.9L636.9 594.2L639.0 593.6L641.1 593.0L643.2 592.5L645.3 592.0L647.4 591.6" stroke="#1fb0cf" stroke-width="0.6" fill="none"/>
<path d="M521.6 665.6L523.7 665.1L525.8 664.7L527.9 664.2L530.0 663.7L532.1 663.1L534.2 662.4L536.3 661.8L538.4 661.0L540.5 660.2L542.6 659.4L544.7 658.5L546.8 657.5L548.9 656.4L551.0 655.3L553.1 654.1L555.2 652.8L557.3 651.5L559.4 650.0L561.4 648.5L563.5 647.0L565.6 645.3L567.7 643.6L569.8 641.9L571.9 640.0L574.0 638.2L576.1 636.2L578.2 634.3L580.3 632.3L582.4 630.3L584.5 628.3L586.6 626.3L588.7 624.3L590.8 622.3L592.9 620.4L595.0 618.4L597.1 616.6L599.2 614.7L601.3 613.0L603.4 611.3L605.5 609.6L607.6 608.1L609.6 606.6L611.7 605.1L613.8 603.8L615.9 602.5L618.0 601.3L620.1 600.2L622.2 599.1L624.3 598.1L626.4 597.2L628.5 596.4L630.6 595.6L632.7 594.8L634.8 594.2L636.9 593.5L639.0 592.9L641.1 592.4L643.2 591.9L645.3 591.5L647.4 591.0" stroke="#2ab5b5" stroke-width="0.6" fill="none"/>
<path d="M521.6 666.1L523.7 665.7L525.8 665.3L527.9 664.8L530.0 664.3L532.1 663.8L534.2 663.2L536.3 662.5L538.4 661.8L540.5 661.0L542.6 660.2L544.7 659.3L546.8 658.3L548.9 657.3L551.0 656.1L553.1 654.9L555.2 653.7L557.3 652.3L559.4 650.8L561.4 649.3L563.5 647.7L565.6 646.0L567.7 644.3L569.8 642.4L571.9 640.6L574.0 638.6L576.1 636.6L578.2 634.6L580.3 632.5L582.4 630.4L584.5 628.3L586.6 626.2L588.7 624.1L590.8 622.0L592.9 620.0L595.0 618.0L597.1 616.0L599.2 614.2L601.3 612.3L603.4 610.6L605.5 608.9L607.6 607.3L609.6 605.8L611.7 604.3L613.8 602.9L615.9 601.7L618.0 600.5L620.1 599.3L622.2 598.3L624.3 597.3L626.4 596.4L628.5 595.6L630.6 594.8L632.7 594.1L634.8 593.4L636.9 592.8L639.0 592.3L641.1 591.8L643.2 591.3L645.3 590.9L647.4 590.5" stroke="#44b998" stroke-width="0.6" fill="none"/>
<path d="M521.6 666.6L523.7 666.2L525.8 665.8L527.9 665.4L530.0 664.9L532.1 664.4L534.2 663.9L536.3 663.2L538.4 662.5L540.5 661.8L542.6 661.0L544.7 660.1L546.8 659.2L548.9 658.1L551.0 657.0L553.1 655.8L555.2 654.5L557.3 653.2L559.4 651.7L561.4 650.1L563.5 648.5L565.6 646.8L567.7 645.0L569.8 643.1L571.9 641.1L574.0 639.1L576.1 637.0L578.2 634.9L580.3 632.7L582.4 630.5L584.5 628.3L586.6 626.1L588.7 623.9L590.8 621.7L592.9 619.6L595.0 617.5L597.1 615.5L599.2 613.5L601.3 611.6L603.4 609.8L605.5 608.1L607.6 606.5L609.6 604.9L611.7 603.4L613.8 602.1L615.9 600.8L618.0 599.6L620.1 598.5L622.2 597.4L624.3 596.5L626.4 595.6L628.5 594.8L630.6 594.1L632.7 593.4L634.8 592.7L636.9 592.2L639.0 591.7L641.1 591.2L643.2 590.8L645.3 590.4L647.4 590.0" stroke="#6ebd77" stroke-width="0.6" fill="none"/>
<path d="M521.6 667.1L523.7 666.7L525.8 666.4L527.9 666.0L530.0 665.6L532.1 665.1L534.2 664.5L536.3 663.9L538.4 663.3L540.5 662.6L542.6 661.8L544.7 661.0L546.8 660.0L548.9 659.0L551.0 657.9L553.1 656.7L555.2 655.5L557.3 654.1L559.4 652.6L561.4 651.0L563.5 649.3L565.6 647.6L567.7 645.7L569.8 643.8L571.9 641.7L574.0 639.6L576.1 637.4L578.2 635.2L580.3 632.9L582.4 630.6L584.5 628.3L586.6 626.0L588.7 623.7L590.8 621.4L592.9 619.2L595.0 617.0L597.1 614.9L599.2 612.8L601.3 610.9L603.4 609.0L605.5 607.3L607.6 605.6L609.6 604.0L611.7 602.5L613.8 601.1L615.9 599.9L618.0 598.7L620.1 597.6L622.2 596.6L624.3 595.6L626.4 594.8L628.5 594.0L630.6 593.3L632.7 592.7L634.8 592.1L636.9 591.5L639.0 591.0L641.1 590.6L643.2 590.2L645.3 589.9L647.4 589.5" stroke="#92bd5f" stroke-width="0.6" fill="none"/>
<path d="M521.6 667.5L523.7 667.2L525.8 666.9L527.9 666.5L530.0 666.1L532.1 665.7L534.2 665.2L536.3 664.7L538.4 664.0L540.5 663.4L542.6 662.6L544.7 661.8L546.8 660.9L548.9 659.9L551.0 658.9L553.1 657.7L555.2 656.4L557.3 655.0L559.4 653.5L561.4 651.9L563.5 650.2L565.6 648.4L567.7 646.5L569.8 644.5L571.9 642.4L574.0 640.2L576.1 637.9L578.2 635.5L580.3 633.2L582.4 630.7L584.5 628.3L586.6 625.9L588.7 623.4L590.8 621.1L592.9 618.7L595.0 616.4L597.1 614.2L599.2 612.1L601.3 610.1L603.4 608.2L605.5 606.4L607.6 604.7L609.6 603.1L611.7 601.6L613.8 600.2L615.9 598.9L618.0 597.7L620.1 596.7L622.2 595.7L624.3 594.8L626.4 594.0L628.5 593.2L630.6 592.6L632.7 591.9L634.8 591.4L636.9 590.9L639.0 590.5L641.1 590.1L643.2 589.7L645.3 589.4L647.4 589.1" stroke="#b3ba4d" stroke-width="0.6" fill="none"/>
<path d="M521.6 667.9L523.7 667.7L525.8 667.4L527.9 667.1L530.0 666.7L532.1 666.3L534.2 665.8L536.3 665.3L538.4 664.8L540.5 664.1L542.6 663.4L544.7 662.7L546.8 661.8L548.9 660.9L551.0 659.8L553.1 658.7L555.2 657.4L557.3 656.0L559.4 654.5L561.4 652.9L563.5 651.2L565.6 649.3L567.7 647.4L569.8 645.3L571.9 643.1L574.0 640.8L576.1 638.4L578.2 635.9L580.3 633.4L582.4 630.9L584.5 628.3L586.6 625.7L588.7 623.2L590.8 620.7L592.9 618.2L595.0 615.8L597.1 613.5L599.2 611.3L601.3 609.2L603.4 607.3L605.5 605.4L607.6 603.7L609.6 602.1L611.7 600.6L613.8 599.2L615.9 597.9L618.0 596.8L620.1 595.7L622.2 594.8L624.3 593.9L626.4 593.2L628.5 592.5L630.6 591.8L632.7 591.3L634.8 590.8L636.9 590.3L639.0 589.9L641.1 589.5L643.2 589.2L645.3 588.9L647.4 588.7" stroke="#d0b53f" stroke-width="0.6" fill="none"/>
<path d="M521.6 668.3L523.7 668.1L525.8 667.8L527.9 667.5L530.0 667.2L532.1 666.9L534.2 666.4L536.3 666.0L538.4 665.5L540.5 664.9L542.6 664.2L544.7 663.5L546.8 662.7L548.9 661.8L551.0 660.8L553.1 659.6L555.2 658.4L557.3 657.1L559.4 655.6L561.4 653.9L563.5 652.2L565.6 650.3L567.7 648.3L569.8 646.1L571.9 643.8L574.0 641.4L576.1 638.9L578.2 636.4L580.3 633.7L582.4 631.0L584.5 628.3L586.6 625.6L588.7 622.9L590.8 620.2L592.9 617.7L595.0 615.2L597.1 612.8L599.2 610.5L601.3 608.3L603.4 606.3L605.5 604.4L607.6 602.7L609.6 601.0L611.7 599.5L613.8 598.2L615.9 597.0L618.0 595.8L620.1 594.8L622.2 593.9L624.3 593.1L626.4 592.4L628.5 591.7L630.6 591.1L632.7 590.6L634.8 590.2L636.9 589.7L639.0 589.4L641.1 589.1L643.2 588.8L645.3 588.5L647.4 588.3" stroke="#e8ae3c" stroke-width="0.6" fill="none"/>
<path d="M521.6 668.6L523.7 668.4L525.8 668.2L527.9 668.0L530.0 667.7L532.1 667.4L534.2 667.0L536.3 666.6L538.4 666.1L540.5 665.6L542.6 665.0L544.7 664.3L546.8 663.6L548.9 662.7L551.0 661.7L553.1 660.7L555.2 659.5L557.3 658.1L559.4 656.7L561.4 655.0L563.5 653.3L565.6 651.3L567.7 649.3L569.8 647.0L571.9 644.7L574.0 642.2L576.1 639.6L578.2 636.8L580.3 634.0L582.4 631.2L584.5 628.3L586.6 625.4L588.7 622.6L590.8 619.8L592.9 617.0L595.0 614.4L597.1 611.9L599.2 609.6L601.3 607.3L603.4 605.3L605.5 603.3L607.6 601.6L609.6 599.9L611.7 598.5L613.8 597.1L615.9 595.9L618.0 594.9L620.1 593.9L622.2 593.0L624.3 592.3L626.4 591.6L628.5 591.0L630.6 590.5L632.7 590.0L634.8 589.6L636.9 589.2L639.0 588.9L641.1 588.6L643.2 588.4L645.3 588.2L647.4 588.0" stroke="#f6b237" stroke-width="0.6" fill="none"/>
<path d="M521.6 668.9L523.7 668.8L525.8 668.6L527.9 668.4L530.0 668.1L532.1 667.9L534.2 667.6L536.3 667.2L538.4 666.8L540.5 666.3L542.6 665.8L544.7 665.1L546.8 664.4L548.9 663.6L551.0 662.7L553.1 661.7L555.2 660.5L557.3 659.2L559.4 657.8L561.4 656.2L563.5 654.4L565.6 652.5L567.7 650.3L569.8 648.0L571.9 645.6L574.0 643.0L576.1 640.2L578.2 637.4L580.3 634.4L582.4 631.4L584.5 628.3L586.6 625.2L588.7 622.2L590.8 619.2L592.9 616.4L595.0 613.6L597.1 611.0L599.2 608.6L601.3 606.3L603.4 604.1L605.5 602.2L607.6 600.4L609.6 598.8L611.7 597.4L613.8 596.1L615.9 594.9L618.0 593.9L620.1 593.0L622.2 592.2L624.3 591.5L626.4 590.8L628.5 590.3L630.6 589.8L632.7 589.4L634.8 589.0L636.9 588.7L639.0 588.5L641.1 588.2L643.2 588.0L645.3 587.8L647.4 587.7" stroke="#f8c631" stroke-width="0.6" fill="none"/>
<path d="M521.6 669.2L523.7 669.0L525.8 668.9L527.9 668.7L530.0 668.5L532.1 668.3L534.2 668.0L536.3 667.7L538.4 667.4L540.5 667.0L542.6 666.5L544.7 665.9L546.8 665.3L548.9 664.5L551.0 663.7L553.1 662.7L555.2 661.6L557.3 660.4L559.4 659.0L561.4 657.4L563.5 655.6L565.6 653.7L567.7 651.5L569.8 649.1L571.9 646.6L574.0 643.9L576.1 641.0L578.2 637.9L580.3 634.8L582.4 631.6L584.5 628.3L586.6 625.0L588.7 621.8L590.8 618.7L592.9 615.6L595.0 612.7L597.1 610.0L599.2 607.5L601.3 605.1L603.4 602.9L605.5 601.0L607.6 599.2L609.6 597.6L611.7 596.2L613.8 595.0L615.9 593.9L618.0 592.9L620.1 592.1L622.2 591.3L624.3 590.7L626.4 590.1L628.5 589.6L630.6 589.2L632.7 588.9L634.8 588.6L636.9 588.3L639.0 588.1L641.1 587.9L643.2 587.7L645.3 587.6L647.4 587.4" stroke="#f7d32d" stroke-width="0.6" fill="none"/>
<path d="M521.6 669.4L523.7 669.3L525.8 669.2L527.9 669.0L530.0 668.9L532.1 668.7L534.2 668.5L536.3 668.2L538.4 667.9L540.5 667.6L542.6 667.1L544.7 666.6L546.8 666.1L548.9 665.4L551.0 664.6L553.1 663.8L555.2 662.7L557.3 661.5L559.4 660.2L561.4 658.6L563.5 656.9L565.6 654.9L567.7 652.7L569.8 650.3L571.9 647.7L574.0 644.9L576.1 641.8L578.2 638.6L580.3 635.2L582.4 631.8L584.5 628.3L586.6 624.8L588.7 621.4L590.8 618.0L592.9 614.8L595.0 611.7L597.1 608.9L599.2 606.3L601.3 603.9L603.4 601.7L605.5 599.7L607.6 598.0L609.6 596.4L611.7 595.1L613.8 593.9L615.9 592.8L618.0 592.0L620.1 591.2L622.2 590.5L624.3 590.0L626.4 589.5L628.5 589.0L630.6 588.7L632.7 588.4L634.8 588.1L636.9 587.9L639.0 587.7L641.1 587.6L643.2 587.4L645.3 587.3L647.4 587.2" stroke="#f5e02a" stroke-width="1.1" fill="none"/>
<linearGradient id="cbj" x1="0" y1="0" x2="0" y2="1"><stop offset="0.00" stop-color="#f5e02a"/><stop offset="0.10" stop-color="#f8c830"/><stop offset="0.18" stop-color="#f5a93a"/><stop offset="0.28" stop-color="#c9b840"/><stop offset="0.40" stop-color="#7fbf6a"/><stop offset="0.50" stop-color="#2fb7a8"/><stop offset="0.58" stop-color="#1fb0d0"/><stop offset="0.70" stop-color="#3f8fd0"/><stop offset="0.80" stop-color="#4a6fc0"/><stop offset="0.90" stop-color="#4f55b0"/><stop offset="1.00" stop-color="#4d48a0"/></linearGradient>
<rect x="658" y="595.3" width="6.8" height="68" fill="url(#cbj)" stroke="#777" stroke-width="0.6"/>
<text x="669.4" y="599.4" font-size="10.3" text-anchor="start" fill="#4d4d4d">1</text>
<text x="669.4" y="667.8" font-size="10.3" text-anchor="start" fill="#4d4d4d">0</text>
<text x="685.8" y="629.2" font-size="10.2" text-anchor="middle" fill="#777" transform="rotate(-90 685.8 629.2)">Attention level</text>
<path d="M656.5 618.4L665.5 614.3V617.2L656.5 620.6z" fill="#fff"/>
<path d="M658.2 640v3M659 648v4M658.6 656v3.5M660.2 645v2M659.6 660.5h2.2" stroke="#fff" stroke-opacity="0.55" stroke-width="1"/>
<ellipse cx="609.3" cy="683.1" rx="6.6" ry="6.6" fill="#fff" stroke="#e6e6e6" stroke-width="0.6"/>
<ellipse cx="617.4" cy="688.4" rx="5.3" ry="5.8" fill="#fff" stroke="#e0e0e0" stroke-width="0.6"/>
<text x="632.6" y="694.1" font-size="17.5" fill="#8e8e8e">AIBrain</text>
<text x="631.8" y="693.4" font-size="17.5" fill="#fff">AIBrain</text>
</g>
</svg></body></html>
